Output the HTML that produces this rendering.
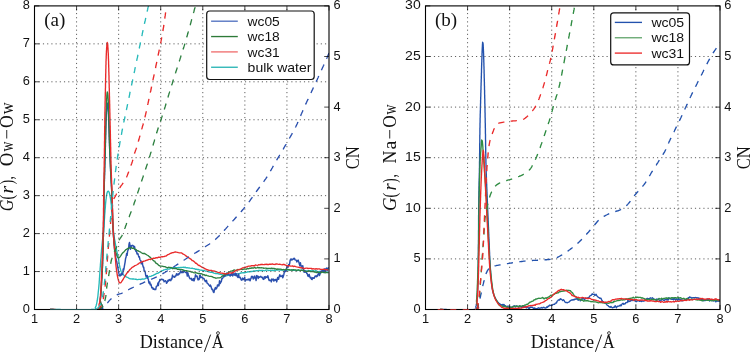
<!DOCTYPE html><html><head><meta charset="utf-8"><style>html,body{margin:0;padding:0;background:#fff;}svg{display:block;will-change:transform;} .s{font-family:"Liberation Sans",sans-serif;} .r{font-family:"Liberation Serif",serif;}</style></head><body>
<svg width="750" height="352" viewBox="0 0 750 352">
<rect width="750" height="352" fill="#fff"/>
<defs><clipPath id="ca"><rect x="34.5" y="5.9" width="294.5" height="303.6"/></clipPath><clipPath id="cb"><rect x="425.5" y="5.9" width="294.5" height="303.6"/></clipPath></defs>
<path d="M50.0 309.5 L51.0 309.5 L52.0 309.5 L52.9 309.5 L53.9 309.5 L55.0 309.5 L55.9 309.5 L56.9 309.5 L57.9 309.5 L58.9 309.5 L60.0 309.5 L61.1 309.6 L62.3 309.6 L63.4 309.6 L64.6 309.6 L65.8 309.6 L66.7 309.6 L67.6 309.6 L68.6 309.6 L69.5 309.6 L70.4 309.6 L71.4 309.6 L72.3 309.6 L73.2 309.6 L74.2 309.6 L75.1 309.6 L76.0 309.6 L76.9 309.6 L77.8 309.6 L79.0 309.6 L80.2 309.6 L81.3 309.6 L82.5 309.6 L83.6 309.6 L84.6 309.6 L85.7 309.6 L86.7 309.6 L87.6 309.6 L88.5 309.6 L89.6 309.6 L90.6 309.6 L91.5 309.5 L92.4 309.5 L94.7 309.4 L95.9 309.3 L96.8 309.1 L95.8 308.5 L95.3 307.6 L95.8 306.7 L96.1 305.8 L96.4 304.8 L96.6 303.8 L96.8 302.9 L97.0 301.9 L97.2 301.0 L97.3 300.0 L97.5 299.0 L97.6 298.0 L97.8 296.8 L97.9 295.9 L98.0 295.0 L98.1 293.9 L98.2 292.8 L98.3 291.9 L98.4 291.0 L98.5 290.0 L98.6 289.0 L98.7 288.0 L98.8 287.0 L98.9 285.9 L99.0 284.8 L99.1 283.7 L99.2 282.6 L99.2 281.6 L99.3 280.7 L99.4 279.7 L99.4 278.8 L99.5 277.9 L99.6 276.9 L99.6 275.9 L99.7 274.9 L99.8 273.9 L99.8 272.9 L99.9 271.9 L100.0 270.9 L100.1 269.8 L100.1 268.8 L100.2 267.7 L100.3 266.6 L100.4 265.5 L100.4 264.5 L100.5 263.6 L100.6 262.6 L100.7 261.6 L100.7 260.6 L100.8 259.6 L100.9 258.5 L101.0 257.5 L101.1 256.5 L101.1 255.4 L101.2 254.4 L101.3 253.3 L101.4 252.3 L101.5 251.2 L101.5 250.2 L101.6 249.2 L101.7 248.2 L101.8 247.3 L101.9 246.3 L102.0 245.4 L102.1 244.4 L102.2 243.3 L102.3 242.3 L102.4 241.4 L102.5 240.4 L102.6 239.3 L102.7 238.2 L102.9 237.2 L103.0 236.3 L103.1 235.3 L103.2 234.3 L103.3 233.3 L103.4 232.2 L103.5 231.0 L103.6 230.0 L103.7 229.0 L103.8 227.8 L103.9 226.9 L103.9 225.9 L104.0 224.9 L104.1 223.9 L104.2 222.8 L104.2 221.7 L104.3 220.6 L104.4 219.5 L104.5 218.4 L104.6 217.2 L104.6 216.1 L104.7 215.0 L104.8 213.9 L104.9 212.8 L105.0 211.8 L105.0 210.8 L105.1 209.8 L105.2 208.8 L105.3 207.9 L105.4 206.8 L105.4 205.7 L105.5 204.6 L105.6 203.4 L105.7 202.4 L105.8 201.4 L105.9 200.5 L106.0 199.4 L106.2 198.4 L106.3 197.5 L106.4 196.4 L106.5 195.5 L106.7 194.5 L106.9 193.5 L107.2 192.3 L107.7 191.4 L108.6 191.2 L109.1 192.3 L109.5 193.5 L109.7 194.5 L109.9 195.5 L110.1 196.4 L110.3 197.5 L110.5 198.4 L110.6 199.4 L110.8 200.5 L110.9 201.4 L111.0 202.4 L111.1 203.4 L111.3 204.6 L111.4 205.6 L111.4 206.6 L111.5 207.6 L111.6 208.5 L111.7 209.5 L111.8 210.5 L111.8 211.5 L111.9 212.5 L112.0 213.6 L112.1 214.7 L112.2 215.8 L112.2 216.9 L112.3 218.0 L112.4 219.1 L112.5 220.3 L112.6 221.4 L112.6 222.4 L112.7 223.5 L112.8 224.6 L112.9 225.6 L113.0 226.6 L113.1 227.6 L113.1 228.5 L113.3 229.6 L113.4 230.6 L113.5 231.6 L113.6 232.5 L113.7 233.6 L113.9 234.8 L114.1 235.9 L114.2 236.9 L114.4 237.9 L114.5 238.9 L114.7 239.9 L114.9 240.8 L115.0 241.7 L115.2 242.6 L115.4 243.7 L115.6 244.8 L115.8 245.8 L116.0 246.9 L116.2 248.0 L116.4 249.1 L116.6 250.1 L116.8 251.0 L117.0 251.9 L117.2 252.8 L117.4 253.7 L117.6 254.6 L117.8 255.5 L118.0 256.5 L118.2 257.5 L118.4 258.5 L118.6 259.6 L118.7 260.7 L118.9 261.8 L119.1 262.8 L119.3 263.9 L119.4 264.9 L119.6 265.8 L119.8 266.7 L120.0 267.7 L120.3 268.7 L120.5 269.6 L120.8 270.6 L121.1 271.5 L121.6 272.5 L122.2 273.4 L122.8 274.2 L123.6 274.9 L124.3 275.5 L125.8 276.7 L126.7 277.1 L127.6 277.3 L128.5 278.1 L129.4 278.5 L130.4 278.8 L131.2 278.9 L132.1 279.0 L133.0 278.8 L133.9 279.0 L135.0 279.2 L136.0 279.2 L136.8 279.6 L137.6 279.6 L138.7 279.3 L139.7 279.3 L140.7 279.5 L141.7 279.2 L142.7 279.0 L143.7 279.1 L144.7 278.8 L145.6 278.3 L146.6 278.0 L147.5 277.8 L148.5 276.9 L149.4 276.4 L150.4 276.3 L151.3 276.1 L152.2 275.6 L153.1 275.4 L154.1 274.8 L155.0 274.3 L155.9 274.0 L156.8 273.3 L157.7 273.4 L158.6 272.7 L159.5 272.3 L160.4 271.6 L161.3 271.2 L162.2 270.7 L163.1 270.4 L164.0 269.8 L164.9 269.7 L165.8 269.4 L166.7 269.4 L167.7 268.9 L168.6 269.1 L169.5 269.0 L170.4 268.5 L171.3 268.3 L172.1 267.9 L173.0 267.7 L174.0 267.9 L175.0 267.7 L176.0 267.7 L177.0 267.7 L178.1 267.6 L178.9 267.5 L179.7 267.6 L180.6 267.4 L181.5 267.3 L182.4 267.3 L183.3 267.2 L184.2 267.6 L185.1 267.2 L186.1 267.8 L187.1 267.6 L188.0 267.9 L189.0 268.0 L190.1 268.2 L191.1 268.3 L192.1 268.2 L193.2 268.6 L194.2 268.7 L195.3 269.2 L196.3 269.2 L197.4 269.5 L198.4 269.5 L199.4 269.8 L200.4 270.1 L201.4 270.1 L202.5 270.5 L203.5 270.5 L204.5 270.5 L205.6 271.2 L206.6 271.1 L207.7 271.4 L208.7 271.9 L209.8 272.0 L210.8 272.3 L211.9 272.4 L212.9 272.7 L213.9 273.2 L214.9 273.3 L215.8 273.5 L216.8 273.6 L217.6 273.5 L218.5 273.8 L219.3 274.2 L220.4 274.3 L221.3 274.3 L222.1 274.6 L223.2 274.9 L224.1 275.2 L224.9 275.4 L225.8 275.7 L226.6 275.8 L227.5 275.3 L228.5 275.4 L229.4 275.0 L230.2 275.5 L231.1 274.9 L231.9 274.9 L232.9 274.5 L233.8 274.8 L234.8 274.5 L235.8 274.4 L236.8 273.7 L237.9 273.9 L238.9 273.8 L239.9 273.3 L241.0 273.0 L242.0 272.9 L243.1 272.7 L244.1 272.7 L245.1 272.7 L246.1 272.4 L247.1 272.1 L248.0 271.7 L249.0 271.8 L249.9 271.8 L250.8 271.4 L251.8 271.5 L252.7 271.3 L253.6 271.0 L254.6 270.9 L255.6 271.0 L256.7 270.7 L257.5 270.6 L258.3 270.5 L259.1 270.3 L260.0 270.6 L260.9 270.5 L261.9 270.4 L262.8 270.5 L263.7 270.7 L264.7 270.8 L265.7 270.1 L266.7 270.2 L267.7 270.1 L268.8 270.5 L269.6 270.4 L270.4 270.3 L271.2 270.4 L272.0 270.2 L272.8 270.5 L273.7 270.7 L274.5 270.0 L275.3 270.3 L276.1 270.2 L276.9 270.0 L278.0 270.0 L279.0 269.7 L280.0 270.2 L281.0 269.8 L282.0 270.0 L282.9 270.2 L283.8 269.8 L284.7 270.0 L285.6 270.0 L286.5 270.1 L287.4 270.1 L288.2 270.0 L289.0 269.8 L290.1 269.8 L291.1 269.9 L292.0 270.0 L293.0 270.4 L293.9 270.3 L294.8 270.3 L295.8 270.4 L296.7 270.6 L297.6 270.5 L298.6 270.0 L299.6 270.6 L300.6 270.4 L301.6 270.2 L302.6 270.5 L303.6 270.4 L304.7 270.7 L305.7 270.8 L306.8 271.3 L307.8 270.8 L308.8 270.6 L309.9 270.6 L310.9 270.7 L311.9 270.8 L312.9 270.6 L313.9 271.0 L314.8 271.3 L315.8 270.7 L316.8 271.1 L317.7 271.4 L318.6 271.6 L319.5 271.4 L320.3 271.9 L321.2 271.7 L322.1 271.5 L322.9 272.0 L323.8 271.9 L324.6 271.5 L325.6 271.8 L326.5 271.8 L327.4 272.1 L328.3 272.0" fill="none" stroke="#26baba" stroke-width="1.35" stroke-linejoin="round" clip-path="url(#ca)"/>
<path d="M50.0 309.5 L51.0 309.5 L51.9 309.5 L53.0 309.5 L54.0 309.6 L55.1 309.6 L56.2 309.6 L57.1 309.6 L58.1 309.7 L59.2 309.7 L60.2 309.7 L61.3 309.8 L62.4 309.8 L63.5 309.8 L64.7 309.9 L65.9 309.9 L67.1 309.9 L68.0 310.0 L68.9 310.0 L69.8 310.0 L70.7 310.0 L71.7 310.0 L72.6 310.1 L73.5 310.1 L74.4 310.1 L75.4 310.1 L76.3 310.1 L77.2 310.1 L78.2 310.2 L79.1 310.2 L80.0 310.2 L80.9 310.2 L81.8 310.2 L83.0 310.2 L84.2 310.2 L85.3 310.2 L86.5 310.2 L87.6 310.2 L88.7 310.2 L89.7 310.1 L90.7 310.1 L91.7 310.1 L92.6 310.0 L93.5 310.0 L94.6 309.9 L95.6 309.9 L96.5 309.8 L97.5 309.7 L98.5 309.5 L99.7 309.2 L100.7 308.9 L101.7 308.4 L102.4 307.7 L102.6 306.6 L102.2 305.6 L101.8 304.8 L101.4 304.0 L100.9 303.0 L100.5 302.1 L100.3 301.1 L100.3 300.0 L100.4 299.0 L100.5 298.0 L100.6 296.9 L100.7 296.0 L100.8 295.0 L100.8 294.0 L100.9 293.1 L101.0 292.0 L101.0 291.0 L101.1 289.9 L101.2 288.9 L101.3 287.8 L101.3 286.7 L101.4 285.6 L101.5 284.5 L101.5 283.4 L101.6 282.3 L101.6 281.3 L101.7 280.4 L101.7 279.5 L101.8 278.6 L101.9 277.7 L101.9 276.7 L102.0 275.8 L102.0 274.9 L102.1 273.9 L102.1 273.0 L102.2 272.0 L102.2 271.0 L102.3 270.0 L102.3 269.0 L102.4 268.0 L102.4 266.9 L102.5 265.9 L102.5 264.8 L102.6 263.7 L102.6 262.6 L102.6 261.5 L102.7 260.3 L102.7 259.3 L102.8 258.2 L102.8 257.1 L102.8 256.2 L102.9 255.3 L102.9 254.4 L102.9 253.4 L102.9 252.5 L103.0 251.5 L103.0 250.5 L103.0 249.6 L103.1 248.6 L103.1 247.6 L103.1 246.6 L103.1 245.6 L103.2 244.5 L103.2 243.5 L103.2 242.5 L103.2 241.4 L103.3 240.4 L103.3 239.4 L103.3 238.3 L103.3 237.2 L103.4 236.2 L103.4 235.1 L103.4 234.0 L103.4 233.0 L103.5 231.9 L103.5 230.8 L103.5 229.8 L103.5 228.8 L103.5 227.9 L103.6 226.9 L103.6 225.9 L103.6 224.9 L103.6 223.9 L103.6 222.9 L103.6 221.9 L103.6 220.9 L103.7 219.8 L103.7 218.8 L103.7 217.7 L103.7 216.7 L103.7 215.6 L103.7 214.6 L103.7 213.5 L103.8 212.5 L103.8 211.4 L103.8 210.3 L103.8 209.3 L103.8 208.3 L103.8 207.2 L103.8 206.2 L103.8 205.2 L103.9 204.2 L103.9 203.2 L103.9 202.2 L103.9 201.2 L103.9 200.2 L103.9 199.3 L103.9 198.3 L104.0 197.4 L104.0 196.5 L104.0 195.4 L104.0 194.4 L104.0 193.2 L104.1 192.1 L104.1 191.0 L104.1 189.9 L104.1 188.8 L104.2 187.8 L104.2 186.8 L104.2 185.8 L104.3 184.8 L104.3 183.8 L104.3 182.8 L104.3 181.9 L104.4 180.9 L104.4 180.0 L104.4 179.1 L104.5 178.1 L104.5 177.2 L104.5 176.2 L104.5 175.3 L104.6 174.4 L104.6 173.4 L104.6 172.5 L104.7 171.5 L104.7 170.5 L104.7 169.5 L104.7 168.5 L104.8 167.5 L104.8 166.5 L104.8 165.5 L104.9 164.5 L104.9 163.5 L104.9 162.5 L104.9 161.5 L105.0 160.5 L105.0 159.5 L105.0 158.5 L105.1 157.5 L105.1 156.5 L105.1 155.5 L105.1 154.5 L105.2 153.5 L105.2 152.5 L105.2 151.5 L105.2 150.5 L105.3 149.5 L105.3 148.5 L105.3 147.5 L105.4 146.5 L105.4 145.5 L105.4 144.5 L105.4 143.5 L105.5 142.4 L105.5 141.4 L105.5 140.3 L105.6 139.3 L105.6 138.2 L105.6 137.1 L105.6 136.0 L105.7 135.0 L105.7 133.9 L105.7 132.8 L105.8 131.8 L105.8 130.7 L105.8 129.7 L105.8 128.6 L105.9 127.6 L105.9 126.6 L105.9 125.6 L105.9 124.7 L106.0 123.8 L106.0 122.7 L106.0 121.6 L106.1 120.6 L106.1 119.6 L106.2 118.6 L106.2 117.6 L106.2 116.6 L106.3 115.7 L106.3 114.6 L106.4 113.5 L106.4 112.5 L106.5 111.5 L106.6 110.4 L106.6 109.4 L106.7 108.4 L106.8 107.5 L106.8 106.5 L106.9 105.2 L107.0 104.1 L107.2 103.1 L107.7 103.8 L107.8 104.8 L107.9 106.1 L108.0 107.0 L108.1 108.1 L108.1 109.0 L108.2 110.0 L108.3 111.1 L108.3 112.0 L108.4 113.0 L108.4 114.0 L108.5 115.1 L108.5 116.3 L108.6 117.3 L108.6 118.2 L108.7 119.3 L108.7 120.2 L108.7 121.2 L108.8 122.2 L108.8 123.3 L108.8 124.2 L108.9 125.2 L108.9 126.1 L108.9 127.1 L109.0 128.1 L109.0 129.1 L109.0 130.2 L109.1 131.2 L109.1 132.3 L109.1 133.3 L109.2 134.4 L109.2 135.5 L109.2 136.6 L109.3 137.7 L109.3 138.7 L109.3 139.8 L109.4 140.9 L109.4 141.9 L109.4 143.0 L109.5 144.0 L109.5 145.0 L109.5 146.0 L109.6 147.0 L109.6 148.0 L109.7 149.0 L109.7 150.0 L109.7 151.0 L109.8 152.0 L109.8 153.0 L109.9 154.0 L109.9 155.0 L110.0 156.0 L110.0 157.0 L110.0 158.0 L110.1 159.0 L110.1 160.0 L110.2 161.0 L110.2 162.0 L110.3 163.0 L110.3 164.0 L110.4 165.0 L110.4 166.0 L110.5 167.0 L110.5 168.0 L110.6 169.0 L110.6 170.0 L110.6 171.0 L110.7 172.0 L110.7 173.0 L110.8 173.9 L110.9 174.9 L110.9 175.9 L111.0 176.9 L111.0 177.8 L111.1 178.8 L111.1 179.8 L111.2 180.7 L111.2 181.7 L111.3 182.7 L111.3 183.7 L111.4 184.6 L111.4 185.6 L111.5 186.6 L111.6 187.6 L111.6 188.7 L111.7 189.7 L111.7 190.7 L111.8 191.8 L111.8 192.8 L111.9 193.9 L111.9 195.0 L111.9 195.9 L112.0 196.9 L112.0 197.8 L112.0 198.8 L112.1 199.8 L112.1 200.8 L112.1 201.8 L112.2 202.9 L112.2 203.9 L112.2 204.9 L112.3 206.0 L112.3 207.0 L112.3 208.1 L112.4 209.1 L112.4 210.2 L112.4 211.2 L112.4 212.3 L112.5 213.3 L112.5 214.4 L112.5 215.4 L112.6 216.4 L112.6 217.4 L112.6 218.4 L112.7 219.4 L112.7 220.4 L112.7 221.4 L112.8 222.3 L112.8 223.2 L112.9 224.1 L112.9 225.3 L113.0 226.5 L113.0 227.6 L113.1 228.8 L113.2 229.9 L113.2 231.1 L113.3 232.2 L113.4 233.3 L113.4 234.4 L113.5 235.5 L113.6 236.5 L113.7 237.6 L113.7 238.6 L113.8 239.6 L113.9 240.5 L114.0 241.5 L114.0 242.4 L114.1 243.5 L114.2 244.5 L114.3 245.5 L114.4 246.5 L114.4 247.4 L114.5 248.6 L114.6 249.6 L114.7 250.7 L114.9 251.7 L115.0 252.8 L115.1 253.7 L115.3 254.7 L115.5 255.8 L115.6 256.8 L115.8 257.8 L116.0 258.7 L116.2 259.6 L116.4 260.5 L116.7 261.5 L116.9 262.6 L117.1 263.7 L117.3 264.7 L117.5 265.7 L117.7 266.8 L117.9 268.0 L118.1 268.9 L118.2 269.8 L118.4 270.7 L118.6 271.9 L118.8 272.9 L119.0 273.9 L119.5 275.3 L120.0 276.0 L120.6 275.2 L121.2 273.6 L121.7 275.0 L122.2 273.4 L122.7 274.2 L123.2 269.0 L123.7 270.0 L124.2 267.3 L124.6 264.9 L125.1 262.1 L125.6 258.4 L126.1 257.0 L126.6 253.6 L127.1 255.3 L127.6 251.2 L128.1 249.9 L128.6 248.8 L129.0 244.2 L129.5 242.5 L130.0 245.4 L130.5 249.2 L130.9 247.4 L131.4 245.6 L131.9 246.1 L132.4 245.3 L132.9 245.5 L133.4 245.8 L134.0 247.9 L134.5 246.5 L135.0 248.9 L135.5 250.2 L136.0 251.4 L136.5 251.0 L137.0 253.9 L137.5 253.9 L137.9 253.6 L138.4 255.4 L138.9 256.9 L139.4 256.8 L139.9 259.5 L140.3 260.2 L140.8 260.5 L141.3 263.8 L141.8 263.6 L142.3 262.1 L142.7 264.9 L143.2 267.0 L143.7 267.2 L144.2 271.2 L144.7 270.8 L145.2 272.0 L145.7 275.3 L146.2 276.7 L146.7 276.1 L147.2 275.5 L147.7 278.3 L148.3 279.1 L148.8 282.5 L149.4 283.6 L149.8 281.9 L150.3 284.9 L150.8 284.1 L151.3 285.6 L151.8 287.8 L152.2 287.8 L152.7 287.6 L153.2 289.3 L153.8 288.6 L154.4 289.5 L155.0 289.4 L155.7 289.5 L156.4 286.1 L156.8 286.1 L157.4 285.6 L157.9 283.1 L158.4 285.5 L158.9 281.6 L159.4 281.6 L159.9 279.5 L160.5 280.0 L161.2 279.1 L161.9 279.1 L162.4 279.8 L163.0 279.5 L163.7 280.3 L164.1 281.8 L164.6 281.3 L165.1 281.0 L165.5 280.7 L166.0 281.2 L166.5 283.3 L167.0 282.8 L167.5 281.6 L168.0 280.2 L168.5 281.1 L169.0 279.9 L169.5 279.6 L170.2 280.4 L170.8 280.7 L171.4 278.5 L171.9 279.0 L172.5 275.1 L173.1 276.8 L173.7 276.9 L174.2 276.6 L174.7 277.3 L175.3 275.9 L175.8 276.0 L176.5 273.8 L176.9 274.9 L177.4 275.1 L178.1 273.7 L178.5 274.8 L179.0 274.1 L179.6 273.7 L180.1 272.6 L180.6 271.0 L181.2 271.8 L181.7 272.7 L182.2 272.5 L182.7 271.2 L183.2 272.6 L183.8 270.7 L184.3 271.1 L185.0 272.0 L185.6 272.5 L186.1 272.5 L186.7 272.8 L187.3 276.1 L187.8 272.6 L188.4 275.0 L189.0 276.4 L189.5 277.9 L190.1 278.7 L190.7 278.7 L191.2 278.2 L191.7 280.0 L192.2 279.3 L192.8 280.4 L193.5 278.6 L194.0 280.9 L194.5 279.4 L195.0 277.5 L195.5 274.8 L196.0 275.6 L196.5 276.5 L197.1 276.1 L197.6 278.7 L198.1 279.9 L198.6 278.7 L199.2 279.5 L199.6 275.7 L200.2 275.1 L200.9 277.7 L201.6 277.1 L202.2 277.2 L202.9 278.3 L203.5 278.3 L204.2 278.9 L204.8 280.4 L205.4 281.7 L206.0 280.6 L206.5 280.3 L207.0 283.0 L207.7 283.6 L208.3 283.9 L208.7 284.9 L209.3 285.6 L209.9 286.2 L210.3 285.0 L210.9 286.0 L211.5 288.2 L212.0 289.6 L212.6 289.2 L213.2 291.7 L213.9 292.5 L214.4 290.4 L215.0 288.5 L215.4 287.5 L215.9 289.0 L216.4 288.6 L217.0 287.4 L217.5 285.0 L218.0 286.1 L218.5 284.7 L219.0 285.8 L219.5 280.7 L220.1 283.6 L220.7 282.4 L221.3 281.5 L221.9 278.5 L222.4 278.5 L223.0 277.6 L223.6 276.1 L224.1 276.7 L224.7 275.2 L225.2 276.2 L225.7 274.1 L226.2 274.6 L226.7 273.1 L227.1 274.9 L227.6 274.6 L228.0 274.4 L228.5 273.7 L229.1 274.8 L229.7 275.2 L230.2 276.1 L230.8 274.2 L231.4 275.2 L231.9 273.1 L232.4 274.7 L232.8 275.9 L233.3 273.8 L233.8 274.0 L234.3 274.0 L234.8 275.2 L235.3 273.1 L235.8 275.5 L236.2 273.7 L236.7 275.4 L237.4 276.7 L238.1 277.5 L238.5 273.9 L239.0 276.2 L239.5 277.6 L240.1 277.2 L240.8 279.0 L241.4 280.2 L242.1 279.3 L242.5 278.1 L243.0 279.8 L243.5 278.8 L244.0 279.2 L244.7 277.2 L245.1 281.2 L245.6 280.4 L246.1 279.7 L246.6 279.7 L247.1 279.9 L247.6 279.8 L248.1 279.1 L248.6 279.6 L249.1 280.0 L249.6 279.1 L250.1 280.8 L250.6 278.9 L251.0 278.6 L251.5 276.4 L252.2 276.3 L252.7 277.2 L253.3 279.0 L253.8 277.5 L254.2 276.4 L254.7 276.1 L255.2 278.7 L255.7 278.9 L256.1 280.5 L256.6 275.6 L257.2 276.9 L257.7 276.0 L258.2 278.5 L258.9 276.7 L259.3 277.4 L259.8 277.3 L260.3 276.9 L260.8 276.3 L261.3 277.0 L261.8 277.5 L262.3 277.2 L262.8 278.4 L263.3 279.3 L263.8 279.4 L264.3 276.8 L264.8 277.4 L265.3 278.2 L265.8 276.6 L266.3 277.4 L266.8 277.3 L267.3 277.4 L267.8 275.7 L268.3 277.6 L268.8 279.6 L269.3 280.6 L269.8 280.2 L270.3 280.4 L270.8 280.2 L271.3 281.9 L271.8 278.9 L272.3 279.6 L272.8 279.9 L273.3 279.1 L273.8 281.1 L274.2 280.5 L274.7 279.6 L275.2 279.5 L275.7 280.3 L276.2 279.5 L276.7 281.9 L277.2 279.5 L277.7 277.5 L278.2 278.2 L278.6 279.3 L279.1 276.7 L279.8 274.7 L280.4 276.5 L281.0 275.9 L281.7 276.6 L282.3 275.3 L282.8 277.8 L283.4 276.1 L283.9 274.2 L284.4 271.4 L284.8 271.5 L285.4 270.0 L285.8 271.6 L286.4 270.0 L286.9 266.5 L287.5 266.8 L288.0 267.3 L288.5 264.8 L289.1 265.2 L289.6 263.8 L290.1 260.6 L290.6 259.4 L291.2 258.9 L291.8 260.1 L292.3 259.4 L292.9 259.4 L293.5 258.4 L294.0 259.0 L294.5 258.3 L295.1 259.9 L295.7 260.1 L296.3 260.2 L296.9 261.9 L297.5 260.8 L298.1 260.1 L298.8 262.1 L299.3 263.9 L299.9 265.7 L300.4 262.7 L300.9 265.9 L301.4 265.7 L301.8 266.4 L302.3 268.2 L302.8 265.8 L303.3 268.9 L303.8 270.5 L304.2 272.3 L304.7 270.6 L305.3 272.2 L305.8 271.2 L306.3 271.2 L306.8 273.6 L307.3 273.7 L307.8 275.9 L308.2 276.4 L308.7 275.0 L309.2 274.4 L309.7 276.4 L310.3 278.0 L310.9 277.3 L311.6 279.4 L312.1 279.5 L312.6 277.7 L313.1 277.7 L313.6 278.3 L314.1 278.3 L314.6 277.4 L315.1 276.0 L315.6 276.0 L316.1 276.4 L316.6 276.8 L317.0 275.5 L317.5 276.1 L318.0 274.2 L318.4 273.7 L318.9 272.6 L319.5 275.5 L320.2 273.6 L320.8 271.2 L321.5 271.8 L322.1 270.3 L322.7 270.8 L323.4 272.5 L324.0 269.8 L324.5 268.9 L325.1 271.9 L325.6 269.3 L326.1 268.5 L326.6 268.1 L327.1 270.7 L327.6 269.4 L328.2 267.8 L328.7 267.9" fill="none" stroke="#2a4fae" stroke-width="1.45" stroke-linejoin="round" clip-path="url(#ca)"/>
<path d="M50.0 309.5 L51.0 309.5 L51.9 309.5 L53.0 309.5 L54.0 309.6 L55.1 309.6 L56.2 309.6 L57.1 309.6 L58.1 309.7 L59.2 309.7 L60.2 309.7 L61.3 309.8 L62.4 309.8 L63.5 309.8 L64.7 309.9 L65.9 309.9 L67.1 309.9 L68.0 310.0 L68.9 310.0 L69.8 310.0 L70.7 310.0 L71.7 310.0 L72.6 310.1 L73.5 310.1 L74.4 310.1 L75.4 310.1 L76.3 310.1 L77.2 310.1 L78.2 310.2 L79.1 310.2 L80.0 310.2 L80.9 310.2 L81.8 310.2 L83.0 310.2 L84.2 310.2 L85.3 310.2 L86.5 310.2 L87.6 310.2 L88.7 310.2 L89.7 310.1 L90.7 310.1 L91.7 310.1 L92.6 310.0 L93.5 310.0 L94.6 309.9 L95.6 309.9 L96.5 309.8 L97.5 309.7 L98.5 309.5 L99.7 309.2 L100.7 308.9 L101.7 308.4 L102.4 307.7 L102.6 306.6 L102.2 305.6 L101.8 304.8 L101.4 304.0 L100.9 303.0 L100.5 302.1 L100.3 301.1 L100.3 300.0 L100.4 299.0 L100.5 298.0 L100.6 296.9 L100.7 296.0 L100.8 295.0 L100.8 294.0 L100.9 293.1 L101.0 292.0 L101.0 291.0 L101.1 289.9 L101.2 288.9 L101.3 287.8 L101.3 286.7 L101.4 285.6 L101.5 284.5 L101.5 283.4 L101.6 282.3 L101.6 281.3 L101.7 280.4 L101.7 279.5 L101.8 278.6 L101.9 277.7 L101.9 276.7 L102.0 275.8 L102.0 274.9 L102.1 273.9 L102.1 273.0 L102.2 272.0 L102.2 271.0 L102.3 270.0 L102.3 269.0 L102.4 268.0 L102.4 266.9 L102.5 265.9 L102.5 264.8 L102.6 263.7 L102.6 262.6 L102.6 261.5 L102.7 260.3 L102.7 259.3 L102.8 258.2 L102.8 257.1 L102.8 256.2 L102.9 255.3 L102.9 254.4 L102.9 253.4 L102.9 252.5 L103.0 251.5 L103.0 250.5 L103.0 249.6 L103.1 248.6 L103.1 247.6 L103.1 246.6 L103.1 245.6 L103.2 244.5 L103.2 243.5 L103.2 242.5 L103.2 241.4 L103.3 240.4 L103.3 239.4 L103.3 238.3 L103.3 237.2 L103.4 236.2 L103.4 235.1 L103.4 234.0 L103.4 233.0 L103.5 231.9 L103.5 230.8 L103.5 229.8 L103.5 228.8 L103.5 227.9 L103.6 226.9 L103.6 225.9 L103.6 224.9 L103.6 223.9 L103.6 222.9 L103.6 221.9 L103.7 220.9 L103.7 219.8 L103.7 218.8 L103.7 217.7 L103.7 216.7 L103.7 215.6 L103.7 214.6 L103.7 213.5 L103.8 212.5 L103.8 211.4 L103.8 210.3 L103.8 209.3 L103.8 208.3 L103.8 207.2 L103.8 206.2 L103.8 205.2 L103.9 204.2 L103.9 203.2 L103.9 202.2 L103.9 201.2 L103.9 200.2 L103.9 199.3 L103.9 198.3 L104.0 197.4 L104.0 196.5 L104.0 195.4 L104.0 194.4 L104.0 193.2 L104.1 192.1 L104.1 191.0 L104.1 189.9 L104.1 188.8 L104.1 187.8 L104.2 186.8 L104.2 185.8 L104.2 184.8 L104.2 183.8 L104.3 182.8 L104.3 181.9 L104.3 180.9 L104.3 180.0 L104.4 179.1 L104.4 178.1 L104.4 177.2 L104.4 176.2 L104.5 175.3 L104.5 174.4 L104.5 173.4 L104.5 172.5 L104.6 171.5 L104.6 170.5 L104.6 169.5 L104.6 168.5 L104.7 167.5 L104.7 166.5 L104.7 165.5 L104.7 164.5 L104.8 163.5 L104.8 162.5 L104.8 161.5 L104.9 160.5 L104.9 159.5 L104.9 158.5 L104.9 157.5 L105.0 156.5 L105.0 155.5 L105.0 154.5 L105.1 153.5 L105.1 152.5 L105.1 151.5 L105.2 150.5 L105.2 149.5 L105.2 148.5 L105.2 147.5 L105.3 146.5 L105.3 145.5 L105.3 144.5 L105.3 143.5 L105.4 142.5 L105.4 141.5 L105.4 140.4 L105.4 139.4 L105.5 138.4 L105.5 137.3 L105.5 136.3 L105.5 135.3 L105.6 134.2 L105.6 133.2 L105.6 132.2 L105.6 131.2 L105.6 130.1 L105.7 129.1 L105.7 128.1 L105.7 127.1 L105.7 126.1 L105.8 125.2 L105.8 124.2 L105.8 123.2 L105.8 122.3 L105.9 121.4 L105.9 120.5 L105.9 119.4 L105.9 118.3 L106.0 117.2 L106.0 116.1 L106.0 114.9 L106.1 113.8 L106.1 112.7 L106.2 111.6 L106.2 110.5 L106.2 109.5 L106.3 108.4 L106.3 107.4 L106.3 106.4 L106.4 105.4 L106.4 104.5 L106.4 103.6 L106.5 102.5 L106.5 101.5 L106.6 100.5 L106.6 99.6 L106.7 98.3 L106.8 97.1 L106.8 96.1 L106.9 95.1 L107.0 94.0 L107.1 92.9 L107.3 92.0 L107.7 92.9 L107.8 94.0 L107.9 95.1 L108.0 96.1 L108.0 97.1 L108.1 98.3 L108.2 99.6 L108.2 100.5 L108.3 101.5 L108.3 102.5 L108.4 103.6 L108.4 104.5 L108.4 105.4 L108.5 106.4 L108.5 107.4 L108.5 108.4 L108.6 109.5 L108.6 110.5 L108.6 111.6 L108.7 112.7 L108.7 113.8 L108.7 114.9 L108.8 116.1 L108.8 117.2 L108.8 118.3 L108.9 119.4 L108.9 120.5 L108.9 121.4 L109.0 122.3 L109.0 123.2 L109.0 124.2 L109.0 125.2 L109.1 126.1 L109.1 127.1 L109.1 128.1 L109.2 129.1 L109.2 130.1 L109.2 131.2 L109.2 132.2 L109.3 133.2 L109.3 134.2 L109.3 135.3 L109.3 136.3 L109.4 137.3 L109.4 138.4 L109.4 139.4 L109.5 140.4 L109.5 141.5 L109.5 142.5 L109.6 143.5 L109.6 144.5 L109.6 145.5 L109.7 146.5 L109.7 147.5 L109.7 148.5 L109.8 149.5 L109.8 150.5 L109.8 151.5 L109.9 152.5 L109.9 153.5 L109.9 154.5 L110.0 155.5 L110.0 156.5 L110.1 157.5 L110.1 158.5 L110.1 159.5 L110.2 160.5 L110.2 161.5 L110.3 162.5 L110.3 163.5 L110.4 164.5 L110.4 165.5 L110.4 166.5 L110.5 167.5 L110.5 168.5 L110.6 169.5 L110.6 170.5 L110.7 171.5 L110.7 172.5 L110.8 173.5 L110.8 174.4 L110.9 175.4 L110.9 176.4 L111.0 177.3 L111.0 178.3 L111.1 179.3 L111.1 180.2 L111.2 181.2 L111.2 182.2 L111.3 183.2 L111.4 184.1 L111.4 185.1 L111.5 186.1 L111.5 187.1 L111.6 188.1 L111.6 189.2 L111.7 190.2 L111.7 191.2 L111.8 192.3 L111.8 193.4 L111.9 194.5 L111.9 195.5 L112.0 196.4 L112.0 197.4 L112.0 198.3 L112.1 199.3 L112.1 200.3 L112.1 201.4 L112.2 202.4 L112.2 203.4 L112.2 204.5 L112.3 205.5 L112.3 206.6 L112.3 207.7 L112.3 208.7 L112.4 209.8 L112.4 210.8 L112.4 211.9 L112.5 213.0 L112.5 214.0 L112.5 215.0 L112.6 216.1 L112.6 217.1 L112.6 218.1 L112.7 219.1 L112.7 220.0 L112.7 221.0 L112.8 221.9 L112.8 222.8 L112.9 223.9 L112.9 225.0 L112.9 225.9 L113.0 226.8 L113.0 227.8 L113.1 228.9 L113.2 230.1 L113.2 231.2 L113.3 232.3 L113.3 233.4 L113.4 234.5 L113.5 235.5 L113.5 236.5 L113.6 237.5 L113.7 238.5 L113.8 239.4 L113.8 240.3 L113.9 241.4 L114.0 242.5 L114.1 243.5 L114.2 244.4 L114.3 245.4 L114.5 246.4 L114.6 247.4 L114.8 248.3 L115.0 249.4 L115.3 250.4 L115.5 251.3 L115.8 252.4 L116.1 253.3 L116.4 254.2 L116.8 255.3 L117.2 256.2 L117.7 257.2 L118.3 257.9 L119.3 257.7 L120.0 256.8 L120.5 256.0 L121.0 255.3 L121.6 254.4 L122.2 253.5 L122.9 252.8 L123.5 252.2 L124.3 251.4 L125.8 249.7 L126.6 249.4 L127.6 248.4 L128.5 248.4 L129.4 247.6 L130.3 247.8 L131.4 247.6 L132.2 248.2 L133.1 248.2 L134.0 248.6 L134.9 249.4 L135.9 249.4 L136.8 250.3 L137.7 250.7 L138.6 251.2 L139.5 251.7 L140.5 251.9 L141.4 252.7 L142.3 253.3 L143.2 253.5 L144.2 253.3 L145.1 253.8 L146.0 254.4 L147.0 255.0 L148.0 255.5 L148.9 256.3 L149.9 257.1 L150.8 258.0 L151.8 258.6 L152.8 259.9 L153.8 260.9 L154.7 261.2 L155.6 262.8 L156.5 263.3 L157.5 264.1 L158.4 264.9 L159.3 265.7 L160.2 266.0 L161.0 266.2 L162.0 266.1 L162.9 266.3 L163.8 266.6 L164.7 266.7 L165.7 267.0 L166.7 267.5 L167.8 267.8 L168.6 267.2 L169.4 267.3 L170.3 267.7 L171.1 267.5 L172.0 267.9 L172.9 268.8 L173.7 268.2 L174.6 268.5 L175.5 268.4 L176.4 268.6 L177.3 269.2 L178.3 269.2 L179.3 269.5 L180.3 269.5 L181.3 269.5 L182.3 269.6 L183.3 270.0 L184.3 270.5 L185.4 270.6 L186.4 270.6 L187.4 271.0 L188.5 271.1 L189.5 271.3 L190.5 271.5 L191.5 272.1 L192.5 272.0 L193.5 272.6 L194.5 272.8 L195.6 272.6 L196.6 272.8 L197.7 273.3 L198.5 273.5 L199.3 273.5 L200.1 273.6 L201.2 273.7 L202.2 274.1 L203.2 274.6 L204.3 274.7 L205.2 275.6 L206.2 275.2 L207.1 275.6 L208.0 275.9 L208.8 276.2 L209.8 276.3 L210.9 276.3 L212.1 276.7 L213.0 277.2 L213.9 277.6 L214.8 277.6 L215.7 278.2 L216.7 278.1 L217.6 277.9 L218.5 277.9 L219.4 277.9 L220.4 277.7 L221.3 277.0 L222.2 276.1 L223.2 275.6 L224.1 275.2 L225.0 274.5 L225.8 274.2 L226.8 273.9 L227.7 273.1 L228.7 272.2 L229.6 271.8 L230.5 271.2 L231.4 271.1 L232.2 270.9 L233.0 270.7 L233.9 269.9 L234.8 270.2 L235.7 270.3 L236.7 270.1 L237.7 269.5 L238.8 269.7 L239.6 269.6 L240.4 269.3 L241.2 269.3 L242.0 269.4 L242.9 269.5 L243.7 269.1 L244.5 268.9 L245.3 269.1 L246.3 269.2 L247.2 268.4 L248.2 268.9 L249.1 268.5 L250.0 268.2 L250.9 268.4 L251.9 267.8 L252.8 268.0 L253.8 268.0 L254.8 267.4 L255.8 268.2 L256.9 267.9 L257.7 267.3 L258.5 267.9 L259.4 267.6 L260.3 267.9 L261.2 267.7 L262.1 267.9 L263.0 267.8 L263.9 268.3 L264.9 268.2 L265.9 268.1 L266.9 268.5 L267.9 268.4 L269.0 268.3 L270.0 268.3 L270.8 268.5 L271.6 268.1 L272.4 268.3 L273.2 268.5 L274.1 268.5 L274.9 268.6 L275.7 268.8 L276.7 269.4 L277.8 269.0 L278.8 269.1 L279.8 269.1 L280.8 269.1 L281.8 269.6 L282.7 269.7 L283.6 269.5 L284.5 269.9 L285.3 269.6 L286.2 269.2 L287.1 269.6 L287.9 269.5 L288.8 269.6 L289.8 270.0 L290.8 270.1 L291.8 269.8 L292.7 270.0 L293.7 269.7 L294.6 269.8 L295.5 269.8 L296.5 270.4 L297.4 270.1 L298.3 269.9 L299.3 270.2 L300.3 270.3 L301.3 270.2 L302.3 270.3 L303.3 270.4 L304.3 271.2 L305.4 271.4 L306.4 271.6 L307.4 271.4 L308.4 271.0 L309.5 271.1 L310.5 271.6 L311.5 271.6 L312.4 271.5 L313.4 271.4 L314.4 272.1 L315.3 272.0 L316.3 272.6 L317.1 272.4 L318.0 272.3 L318.9 272.3 L319.7 272.7 L320.6 272.6 L321.5 272.6 L322.4 272.2 L323.2 272.1 L324.0 272.4 L325.1 272.8 L326.0 272.7 L326.9 272.6 L327.7 272.7 L328.6 272.6" fill="none" stroke="#2d8040" stroke-width="1.35" stroke-linejoin="round" clip-path="url(#ca)"/>
<path d="M50.0 309.5 L51.0 309.5 L51.9 309.5 L52.8 309.5 L53.8 309.5 L54.9 309.5 L56.0 309.6 L57.0 309.6 L57.9 309.6 L59.0 309.6 L60.0 309.6 L61.1 309.6 L62.2 309.6 L63.3 309.7 L64.5 309.7 L65.7 309.7 L66.9 309.7 L67.8 309.7 L68.7 309.7 L69.6 309.7 L70.5 309.7 L71.5 309.8 L72.4 309.8 L73.3 309.8 L74.3 309.8 L75.2 309.8 L76.1 309.8 L77.1 309.8 L78.0 309.8 L78.9 309.8 L79.8 309.8 L80.7 309.8 L81.9 309.8 L83.1 309.8 L84.3 309.8 L85.4 309.8 L86.5 309.8 L87.6 309.8 L88.7 309.8 L89.7 309.8 L90.7 309.8 L91.6 309.8 L92.5 309.7 L93.6 309.7 L94.6 309.7 L95.5 309.6 L96.5 309.6 L97.5 309.5 L98.7 309.4 L99.7 309.2 L100.9 308.9 L101.1 307.9 L100.2 307.1 L99.3 306.1 L99.0 305.0 L99.2 304.0 L99.5 303.0 L99.7 302.0 L99.9 300.9 L100.0 299.9 L100.2 298.7 L100.3 297.6 L100.4 296.4 L100.5 295.5 L100.5 294.5 L100.6 293.6 L100.7 292.6 L100.7 291.6 L100.8 290.6 L100.9 289.5 L100.9 288.6 L101.0 287.6 L101.0 286.7 L101.1 285.7 L101.1 284.7 L101.2 283.7 L101.2 282.6 L101.3 281.6 L101.3 280.5 L101.4 279.4 L101.4 278.3 L101.5 277.2 L101.5 276.1 L101.6 275.0 L101.6 273.9 L101.7 272.8 L101.7 271.6 L101.8 270.5 L101.8 269.4 L101.9 268.3 L101.9 267.2 L102.0 266.1 L102.0 265.0 L102.0 264.1 L102.1 263.1 L102.1 262.2 L102.2 261.2 L102.2 260.3 L102.2 259.3 L102.3 258.3 L102.3 257.3 L102.3 256.4 L102.4 255.4 L102.4 254.4 L102.5 253.4 L102.5 252.4 L102.5 251.4 L102.6 250.3 L102.6 249.3 L102.6 248.3 L102.7 247.3 L102.7 246.3 L102.8 245.3 L102.8 244.2 L102.8 243.2 L102.9 242.2 L102.9 241.2 L102.9 240.1 L102.9 239.1 L103.0 238.1 L103.0 237.1 L103.0 236.1 L103.1 235.0 L103.1 234.0 L103.1 233.0 L103.1 232.0 L103.2 231.0 L103.2 230.0 L103.2 229.0 L103.2 228.0 L103.3 227.0 L103.3 225.9 L103.3 224.9 L103.3 223.9 L103.3 222.8 L103.4 221.8 L103.4 220.8 L103.4 219.7 L103.4 218.7 L103.4 217.6 L103.4 216.6 L103.5 215.5 L103.5 214.5 L103.5 213.4 L103.5 212.4 L103.5 211.4 L103.5 210.3 L103.5 209.3 L103.5 208.3 L103.6 207.3 L103.6 206.3 L103.6 205.3 L103.6 204.3 L103.6 203.3 L103.6 202.3 L103.6 201.4 L103.6 200.4 L103.6 199.5 L103.7 198.6 L103.7 197.6 L103.7 196.5 L103.7 195.4 L103.7 194.4 L103.7 193.2 L103.7 192.1 L103.8 191.0 L103.8 189.9 L103.8 188.8 L103.8 187.8 L103.8 186.8 L103.8 185.8 L103.9 184.8 L103.9 183.8 L103.9 182.8 L103.9 181.9 L103.9 180.9 L103.9 180.0 L104.0 179.1 L104.0 178.1 L104.0 177.2 L104.0 176.2 L104.0 175.3 L104.0 174.4 L104.0 173.4 L104.1 172.5 L104.1 171.5 L104.1 170.5 L104.1 169.5 L104.1 168.5 L104.1 167.5 L104.2 166.5 L104.2 165.6 L104.2 164.6 L104.2 163.6 L104.2 162.7 L104.2 161.7 L104.3 160.7 L104.3 159.8 L104.3 158.8 L104.3 157.8 L104.3 156.8 L104.3 155.9 L104.3 154.9 L104.4 153.9 L104.4 152.9 L104.4 151.9 L104.4 150.8 L104.4 149.8 L104.4 148.8 L104.5 147.7 L104.5 146.6 L104.5 145.5 L104.5 144.5 L104.5 143.6 L104.5 142.7 L104.5 141.7 L104.6 140.7 L104.6 139.7 L104.6 138.7 L104.6 137.7 L104.6 136.7 L104.6 135.7 L104.6 134.7 L104.6 133.6 L104.7 132.6 L104.7 131.6 L104.7 130.5 L104.7 129.5 L104.7 128.4 L104.7 127.4 L104.7 126.4 L104.8 125.3 L104.8 124.3 L104.8 123.3 L104.8 122.3 L104.8 121.3 L104.8 120.3 L104.8 119.3 L104.8 118.3 L104.9 117.3 L104.9 116.4 L104.9 115.5 L104.9 114.5 L104.9 113.4 L104.9 112.3 L105.0 111.3 L105.0 110.3 L105.0 109.3 L105.0 108.3 L105.0 107.4 L105.1 106.4 L105.1 105.5 L105.1 104.6 L105.1 103.6 L105.1 102.7 L105.1 101.8 L105.2 100.8 L105.2 99.9 L105.2 98.9 L105.2 97.9 L105.2 96.9 L105.3 95.9 L105.3 94.9 L105.3 93.9 L105.3 92.8 L105.4 91.7 L105.4 90.6 L105.4 89.6 L105.4 88.6 L105.5 87.7 L105.5 86.7 L105.5 85.8 L105.5 84.8 L105.5 83.7 L105.6 82.7 L105.6 81.6 L105.6 80.5 L105.6 79.5 L105.6 78.4 L105.7 77.3 L105.7 76.2 L105.7 75.1 L105.7 74.0 L105.8 72.9 L105.8 71.8 L105.8 70.7 L105.8 69.6 L105.9 68.5 L105.9 67.5 L105.9 66.4 L105.9 65.4 L106.0 64.4 L106.0 63.4 L106.0 62.5 L106.0 61.5 L106.1 60.4 L106.1 59.3 L106.2 58.3 L106.2 57.4 L106.2 56.2 L106.3 55.0 L106.3 53.8 L106.4 52.7 L106.4 51.6 L106.5 50.5 L106.6 49.5 L106.6 48.5 L106.7 47.6 L106.8 46.5 L106.8 45.4 L106.9 44.4 L107.0 43.3 L107.2 42.5 L107.6 43.3 L107.7 44.4 L107.8 45.4 L107.8 46.5 L107.9 47.6 L108.0 48.5 L108.0 49.5 L108.1 50.5 L108.1 51.6 L108.2 52.7 L108.3 53.8 L108.3 55.0 L108.4 56.2 L108.4 57.2 L108.4 58.1 L108.5 59.1 L108.5 60.2 L108.6 61.3 L108.6 62.2 L108.6 63.2 L108.6 64.1 L108.7 65.1 L108.7 66.2 L108.7 67.2 L108.8 68.2 L108.8 69.3 L108.8 70.4 L108.8 71.5 L108.9 72.6 L108.9 73.7 L108.9 74.8 L109.0 75.9 L109.0 77.0 L109.0 78.1 L109.0 79.2 L109.1 80.3 L109.1 81.3 L109.1 82.4 L109.1 83.5 L109.2 84.5 L109.2 85.5 L109.2 86.5 L109.2 87.5 L109.3 88.4 L109.3 89.3 L109.3 90.3 L109.3 91.4 L109.4 92.5 L109.4 93.6 L109.4 94.7 L109.4 95.7 L109.5 96.7 L109.5 97.7 L109.5 98.7 L109.5 99.6 L109.6 100.6 L109.6 101.5 L109.6 102.5 L109.6 103.4 L109.7 104.3 L109.7 105.3 L109.7 106.2 L109.7 107.1 L109.7 108.1 L109.8 109.1 L109.8 110.1 L109.8 111.1 L109.8 112.1 L109.9 113.1 L109.9 114.2 L109.9 115.2 L109.9 116.2 L109.9 117.1 L110.0 118.1 L110.0 119.0 L110.0 120.0 L110.0 121.0 L110.1 122.0 L110.1 123.0 L110.1 124.0 L110.1 125.1 L110.2 126.1 L110.2 127.1 L110.2 128.2 L110.2 129.2 L110.3 130.3 L110.3 131.3 L110.3 132.3 L110.3 133.4 L110.4 134.4 L110.4 135.4 L110.4 136.5 L110.4 137.5 L110.4 138.5 L110.5 139.5 L110.5 140.5 L110.5 141.5 L110.5 142.4 L110.6 143.4 L110.6 144.3 L110.6 145.3 L110.6 146.4 L110.7 147.4 L110.7 148.5 L110.7 149.5 L110.7 150.6 L110.7 151.6 L110.8 152.6 L110.8 153.6 L110.8 154.6 L110.8 155.6 L110.9 156.6 L110.9 157.6 L110.9 158.5 L110.9 159.5 L110.9 160.5 L111.0 161.4 L111.0 162.4 L111.0 163.4 L111.0 164.4 L111.1 165.3 L111.1 166.3 L111.1 167.3 L111.1 168.3 L111.2 169.3 L111.2 170.2 L111.2 171.2 L111.3 172.2 L111.3 173.2 L111.3 174.1 L111.4 175.1 L111.4 176.0 L111.4 177.0 L111.5 177.9 L111.5 178.8 L111.5 179.8 L111.6 180.7 L111.6 181.6 L111.6 182.6 L111.7 183.6 L111.7 184.5 L111.8 185.5 L111.8 186.5 L111.8 187.5 L111.9 188.6 L111.9 189.6 L112.0 190.7 L112.0 191.8 L112.0 192.9 L112.1 194.1 L112.1 195.2 L112.1 196.3 L112.2 197.2 L112.2 198.1 L112.2 199.1 L112.3 200.1 L112.3 201.0 L112.3 202.0 L112.3 203.0 L112.4 204.1 L112.4 205.1 L112.4 206.2 L112.4 207.2 L112.5 208.3 L112.5 209.3 L112.5 210.4 L112.6 211.5 L112.6 212.6 L112.6 213.6 L112.7 214.7 L112.7 215.8 L112.7 216.8 L112.7 217.9 L112.8 219.0 L112.8 220.0 L112.8 221.0 L112.9 222.0 L112.9 223.0 L112.9 224.0 L113.0 225.0 L113.0 226.0 L113.1 226.9 L113.1 227.8 L113.1 228.9 L113.2 230.0 L113.2 230.9 L113.3 231.8 L113.4 233.0 L113.4 234.2 L113.5 235.3 L113.6 236.4 L113.6 237.5 L113.7 238.6 L113.8 239.6 L113.9 240.7 L114.0 241.7 L114.0 242.7 L114.1 243.7 L114.2 244.6 L114.3 245.6 L114.4 246.5 L114.4 247.5 L114.5 248.4 L114.6 249.3 L114.7 250.4 L114.8 251.5 L114.9 252.5 L115.0 253.6 L115.1 254.6 L115.1 255.5 L115.2 256.7 L115.3 257.9 L115.4 259.0 L115.5 260.0 L115.6 261.1 L115.7 262.1 L115.8 263.1 L115.8 264.0 L115.9 265.0 L116.0 265.9 L116.1 267.0 L116.3 268.1 L116.4 269.2 L116.5 270.3 L116.7 271.2 L116.8 272.2 L117.0 273.1 L117.1 274.2 L117.3 275.3 L117.5 276.3 L117.7 277.3 L117.9 278.2 L118.2 279.3 L118.4 280.2 L118.7 281.0 L119.1 282.2 L119.8 282.9 L120.7 282.8 L121.3 282.1 L121.9 281.2 L122.5 280.3 L123.1 279.4 L123.5 278.5 L124.1 277.6 L124.6 276.6 L125.8 275.0 L126.7 273.3 L127.6 272.4 L128.4 271.7 L129.3 270.3 L130.2 269.2 L131.1 268.5 L132.1 267.4 L133.1 266.9 L133.9 266.4 L134.8 265.7 L135.6 265.4 L136.5 265.0 L137.4 264.5 L138.3 263.9 L139.3 263.0 L140.2 262.6 L141.1 262.2 L142.1 261.8 L143.0 261.5 L144.0 261.2 L145.0 260.9 L146.0 260.5 L146.9 260.1 L147.8 260.0 L148.8 259.4 L149.8 259.3 L150.7 259.5 L151.6 258.7 L152.5 258.7 L153.4 258.1 L154.5 258.3 L155.4 258.0 L156.4 257.7 L157.4 257.8 L158.5 257.2 L159.3 257.2 L160.1 257.3 L161.1 256.9 L162.1 256.7 L163.1 256.7 L164.0 256.6 L165.1 256.1 L166.1 256.1 L167.0 255.2 L167.9 254.6 L168.7 254.3 L169.6 253.9 L170.5 253.3 L171.5 253.0 L172.5 252.6 L173.5 252.6 L174.5 252.1 L175.5 252.0 L176.5 252.2 L177.5 252.3 L178.5 252.6 L179.5 252.8 L180.5 252.8 L181.4 252.8 L182.2 253.4 L183.2 254.1 L184.1 254.5 L185.2 255.2 L186.0 255.9 L186.9 256.6 L187.9 256.9 L188.7 257.8 L189.5 258.2 L190.4 258.9 L191.2 259.4 L192.1 260.5 L193.0 260.7 L193.9 261.4 L194.7 262.1 L195.5 263.2 L196.3 263.2 L197.1 264.0 L197.9 264.9 L198.8 265.5 L199.6 265.4 L200.4 266.2 L201.3 266.8 L202.2 267.4 L203.1 267.7 L204.0 268.1 L204.9 268.8 L205.8 269.0 L206.8 269.8 L207.8 269.7 L208.8 270.4 L209.8 270.3 L210.8 270.4 L211.8 270.5 L212.8 271.1 L213.7 271.0 L214.7 271.2 L215.6 271.7 L216.6 271.9 L217.4 272.2 L218.2 272.4 L219.3 272.6 L220.3 273.0 L221.3 273.1 L222.3 273.2 L223.2 273.7 L224.1 273.3 L225.0 273.9 L226.1 273.9 L226.9 273.7 L227.9 273.4 L228.9 273.0 L229.9 272.9 L230.8 272.8 L231.8 273.1 L232.7 272.6 L233.6 272.1 L234.5 271.4 L235.4 270.9 L236.3 270.4 L237.2 270.0 L238.2 269.9 L239.0 269.7 L239.9 269.4 L240.7 269.2 L241.6 268.5 L242.6 267.9 L243.6 267.7 L244.4 267.4 L245.3 267.5 L246.2 266.9 L247.0 266.9 L247.9 266.4 L248.8 266.2 L249.7 266.1 L250.7 266.0 L251.7 265.6 L252.7 265.7 L253.8 265.7 L254.6 265.7 L255.4 265.0 L256.3 265.2 L257.1 265.3 L258.0 265.1 L258.9 264.7 L259.8 264.8 L260.8 264.5 L261.8 264.3 L262.9 264.5 L263.7 264.6 L264.5 264.4 L265.3 264.5 L266.2 264.1 L267.0 264.6 L267.8 264.3 L268.6 264.6 L269.4 264.2 L270.5 264.2 L271.5 264.2 L272.5 264.0 L273.4 264.3 L274.3 264.4 L275.1 264.5 L276.0 263.9 L276.9 264.0 L277.7 264.2 L278.7 264.4 L279.6 264.2 L280.4 264.3 L281.3 264.6 L282.2 264.8 L283.2 264.3 L284.1 264.5 L284.9 264.8 L285.7 265.2 L286.6 265.5 L287.5 265.8 L288.5 265.8 L289.4 265.6 L290.4 266.1 L291.5 266.1 L292.5 265.9 L293.5 266.6 L294.6 266.2 L295.7 266.6 L296.7 266.9 L297.8 267.1 L298.8 267.3 L299.8 267.5 L300.8 267.8 L301.8 267.7 L302.9 268.1 L303.9 268.7 L304.9 268.4 L306.0 268.1 L307.0 268.2 L308.1 268.5 L309.1 268.4 L310.1 268.4 L311.1 268.3 L312.1 269.1 L313.1 268.7 L314.1 268.8 L315.1 269.2 L316.0 268.6 L316.8 269.0 L317.7 269.0 L318.6 268.9 L319.5 268.9 L320.3 269.3 L321.2 269.4 L322.1 269.4 L322.9 269.3 L323.8 269.1 L324.6 269.4 L325.6 269.6 L326.5 269.7 L327.4 269.8 L328.3 269.6" fill="none" stroke="#e92a2a" stroke-width="1.35" stroke-linejoin="round" clip-path="url(#ca)"/>
<g stroke="#555" stroke-width="0.95" stroke-dasharray="1.15 3.01"><line x1="76.57" y1="309.50" x2="76.57" y2="5.90"/><line x1="118.64" y1="309.50" x2="118.64" y2="5.90"/><line x1="160.71" y1="309.50" x2="160.71" y2="5.90"/><line x1="202.79" y1="309.50" x2="202.79" y2="5.90"/><line x1="244.86" y1="309.50" x2="244.86" y2="5.90"/><line x1="286.93" y1="309.50" x2="286.93" y2="5.90"/></g><g stroke="#555" stroke-width="0.95" stroke-dasharray="1.15 3.06"><line x1="34.50" y1="271.55" x2="329.00" y2="271.55"/><line x1="34.50" y1="233.60" x2="329.00" y2="233.60"/><line x1="34.50" y1="195.65" x2="329.00" y2="195.65"/><line x1="34.50" y1="157.70" x2="329.00" y2="157.70"/><line x1="34.50" y1="119.75" x2="329.00" y2="119.75"/><line x1="34.50" y1="81.80" x2="329.00" y2="81.80"/><line x1="34.50" y1="43.85" x2="329.00" y2="43.85"/></g>
<path d="M100.0 309.5 L100.7 309.2 L101.8 308.8 L103.0 308.2 L104.0 307.5 L104.7 306.8 L105.3 306.0 L105.8 305.2 L106.4 304.3 L107.1 303.4 L107.7 302.7 L108.3 301.9 L108.9 301.1 L109.6 300.4 L110.3 299.6 L111.0 298.9 L111.8 298.2 L112.5 297.6 L113.3 296.9 L114.2 296.3 L115.1 295.7 L116.0 295.2 L116.9 294.8 L117.8 294.5 L118.7 294.2 L119.7 293.9 L120.7 293.6 L121.6 293.3 L122.5 292.9 L123.4 292.5 L124.2 292.1 L125.0 291.6 L125.8 291.1 L126.6 290.7 L127.4 290.2 L128.2 289.8 L129.0 289.4 L129.7 289.0 L130.4 288.7 L131.1 288.3 L132.0 288.0 L132.9 287.5 L134.0 287.0 L134.7 286.7 L135.4 286.4 L136.1 286.0 L136.9 285.7 L137.7 285.3 L138.5 284.9 L139.4 284.6 L140.2 284.2 L141.2 283.7 L142.1 283.3 L143.0 282.9 L144.0 282.4 L145.0 282.0 L145.7 281.7 L146.5 281.3 L147.3 281.0 L148.1 280.7 L148.9 280.3 L149.7 280.0 L150.5 279.6 L151.4 279.2 L152.2 278.9 L153.1 278.5 L154.0 278.1 L154.9 277.7 L155.7 277.3 L156.6 276.9 L157.5 276.5 L158.3 276.1 L159.2 275.6 L160.0 275.2 L160.8 274.8 L161.6 274.3 L162.4 273.9 L163.2 273.4 L164.0 272.9 L164.8 272.5 L165.6 272.0 L166.4 271.5 L167.2 271.0 L168.0 270.5 L168.8 270.0 L169.6 269.5 L170.4 269.0 L171.2 268.5 L172.0 268.0 L172.7 267.5 L173.5 267.0 L174.3 266.5 L175.0 266.0 L175.8 265.5 L176.7 264.9 L177.5 264.4 L178.3 263.9 L179.1 263.3 L179.9 262.8 L180.7 262.3 L181.5 261.7 L182.2 261.2 L183.0 260.7 L183.8 260.2 L184.6 259.7 L185.3 259.2 L186.1 258.7 L186.8 258.2 L187.6 257.7 L188.3 257.2 L189.1 256.7 L189.9 256.2 L190.7 255.7 L191.4 255.3 L192.2 254.8 L192.9 254.4 L193.7 253.9 L194.4 253.5 L195.1 253.0 L195.9 252.6 L196.7 252.1 L197.5 251.6 L198.3 251.1 L199.1 250.6 L200.0 250.0 L200.7 249.6 L201.4 249.1 L202.1 248.7 L202.8 248.2 L203.6 247.7 L204.3 247.3 L205.1 246.8 L205.9 246.3 L206.7 245.8 L207.5 245.3 L208.3 244.7 L209.1 244.2 L209.8 243.7 L210.6 243.1 L211.4 242.6 L212.2 242.0 L213.0 241.4 L213.8 240.8 L214.5 240.1 L215.3 239.5 L215.9 238.9 L216.6 238.3 L217.2 237.7 L217.9 237.1 L218.5 236.5 L219.1 235.9 L219.8 235.2 L220.4 234.6 L221.0 233.9 L221.7 233.3 L222.3 232.6 L222.9 231.9 L223.6 231.2 L224.2 230.5 L224.8 229.8 L225.4 229.1 L226.1 228.4 L226.7 227.6 L227.4 226.9 L228.0 226.2 L228.7 225.5 L229.3 224.7 L230.0 224.0 L230.6 223.3 L231.2 222.7 L231.8 222.0 L232.5 221.3 L233.1 220.6 L233.7 219.9 L234.4 219.2 L235.0 218.5 L235.7 217.7 L236.3 217.0 L237.0 216.3 L237.6 215.5 L238.3 214.8 L238.9 214.1 L239.6 213.3 L240.2 212.6 L240.9 211.9 L241.5 211.2 L242.1 210.5 L242.7 209.8 L243.3 209.1 L243.9 208.4 L244.4 207.7 L245.0 207.1 L245.5 206.4 L246.0 205.8 L246.7 204.9 L247.4 204.1 L248.0 203.3 L248.6 202.4 L249.2 201.7 L249.8 200.9 L250.3 200.1 L250.8 199.4 L251.3 198.7 L251.9 197.9 L252.4 197.2 L252.9 196.5 L253.4 195.8 L253.9 195.0 L254.4 194.3 L254.9 193.5 L255.4 192.8 L256.0 192.0 L256.5 191.3 L257.1 190.5 L257.7 189.8 L258.2 189.0 L258.8 188.3 L259.3 187.5 L259.9 186.7 L260.5 186.0 L261.1 185.2 L261.6 184.5 L262.2 183.7 L262.8 182.9 L263.3 182.2 L263.9 181.4 L264.4 180.7 L264.9 179.9 L265.5 179.1 L266.0 178.4 L266.5 177.6 L267.0 176.8 L267.5 176.0 L268.0 175.2 L268.5 174.4 L269.0 173.6 L269.4 172.8 L269.9 172.0 L270.4 171.2 L270.8 170.4 L271.3 169.6 L271.7 168.8 L272.2 168.0 L272.6 167.2 L273.1 166.3 L273.6 165.5 L274.0 164.7 L274.5 163.8 L275.0 163.0 L275.4 162.2 L275.9 161.5 L276.3 160.7 L276.8 159.9 L277.2 159.2 L277.7 158.4 L278.2 157.7 L278.6 156.9 L279.1 156.1 L279.5 155.3 L280.0 154.5 L280.5 153.7 L280.9 152.9 L281.4 152.1 L281.9 151.3 L282.4 150.5 L282.9 149.6 L283.4 148.8 L283.9 147.9 L284.4 147.0 L284.8 146.3 L285.2 145.6 L285.7 144.8 L286.1 144.1 L286.5 143.3 L287.0 142.5 L287.4 141.8 L287.9 141.0 L288.4 140.2 L288.8 139.4 L289.3 138.6 L289.7 137.8 L290.2 137.0 L290.7 136.2 L291.1 135.4 L291.6 134.6 L292.0 133.8 L292.5 133.0 L292.9 132.2 L293.4 131.4 L293.8 130.5 L294.3 129.7 L294.7 128.9 L295.1 128.1 L295.5 127.3 L295.9 126.5 L296.3 125.6 L296.7 124.8 L297.1 124.0 L297.4 123.2 L297.8 122.4 L298.1 121.7 L298.5 120.9 L298.8 120.1 L299.2 119.3 L299.5 118.5 L299.8 117.7 L300.2 116.8 L300.5 116.0 L300.9 115.2 L301.2 114.3 L301.6 113.5 L302.0 112.6 L302.4 111.7 L302.8 110.7 L303.2 109.8 L303.6 108.8 L304.0 107.8 L304.5 106.8 L304.8 106.1 L305.1 105.4 L305.5 104.6 L305.8 103.9 L306.2 103.1 L306.6 102.3 L306.9 101.5 L307.3 100.7 L307.7 99.9 L308.1 99.1 L308.5 98.2 L308.8 97.4 L309.2 96.5 L309.6 95.7 L310.1 94.8 L310.5 93.9 L310.9 93.1 L311.3 92.2 L311.7 91.3 L312.1 90.4 L312.5 89.6 L312.9 88.7 L313.3 87.8 L313.7 87.0 L314.1 86.1 L314.5 85.3 L314.9 84.4 L315.3 83.6 L315.7 82.8 L316.1 81.9 L316.4 81.1 L316.8 80.3 L317.2 79.6 L317.5 78.8 L317.9 78.0 L318.2 77.3 L318.6 76.3 L319.1 75.4 L319.5 74.4 L319.9 73.5 L320.4 72.5 L320.8 71.6 L321.2 70.7 L321.6 69.8 L322.0 68.9 L322.4 68.0 L322.8 67.1 L323.2 66.3 L323.6 65.4 L323.9 64.5 L324.3 63.7 L324.7 62.9 L325.0 62.0 L325.4 61.2 L325.7 60.4 L326.1 59.7 L326.4 58.9 L326.8 58.1 L327.1 57.4 L327.4 56.6 L327.8 55.9 L328.1 55.2 L328.4 54.5 L328.9 53.4 L329.4 52.3 L329.9 51.3 L330.3 50.2 L330.8 49.2 L331.3 48.2 L331.7 47.2 L332.1 46.3 L332.5 45.4 L332.9 44.5 L333.3 43.7 L333.7 42.9 L334.0 42.2 L334.3 41.6 L334.5 41.0 L334.8 40.5 L335.0 40.0" fill="none" stroke="#2a4fae" stroke-width="1.35" stroke-dasharray="6.2 6.4" stroke-dashoffset="2.55" clip-path="url(#ca)"/>
<path d="M99.0 309.5 L99.5 309.0 L100.1 308.4 L100.8 307.7 L101.6 306.9 L102.4 305.9 L103.0 305.0 L103.4 304.3 L103.8 303.6 L104.1 302.8 L104.4 302.0 L104.7 301.1 L105.0 300.2 L105.2 299.2 L105.5 298.0 L105.6 297.2 L105.8 296.4 L105.9 295.5 L106.0 294.6 L106.1 293.6 L106.2 292.6 L106.3 291.6 L106.4 290.5 L106.5 289.5 L106.6 288.5 L106.7 287.5 L106.9 286.5 L107.0 285.5 L107.1 284.5 L107.3 283.6 L107.4 282.6 L107.6 281.7 L107.8 280.8 L107.9 279.8 L108.1 278.9 L108.3 277.9 L108.4 277.0 L108.6 276.0 L108.8 275.1 L108.9 274.1 L109.1 273.2 L109.3 272.2 L109.4 271.2 L109.6 270.2 L109.8 269.2 L110.0 268.1 L110.1 267.1 L110.3 266.0 L110.5 265.0 L110.6 264.1 L110.8 263.2 L110.9 262.4 L111.1 261.6 L111.2 261.0 L111.6 259.3 L111.9 258.6 L112.3 257.6 L112.5 256.9 L112.8 256.1 L113.1 255.2 L113.4 254.3 L113.7 253.4 L114.1 252.5 L114.4 251.6 L114.8 250.6 L115.2 249.7 L115.7 248.8 L116.2 247.9 L116.6 246.9 L117.0 246.0 L117.4 245.0 L117.7 244.0 L118.0 243.0 L118.3 242.0 L118.7 241.1 L119.1 240.1 L119.5 239.3 L120.0 238.6 L120.4 238.0 L120.9 237.3 L121.5 236.5 L122.0 235.6 L122.5 234.6 L122.8 233.9 L123.1 233.1 L123.4 232.3 L123.8 231.4 L124.1 230.5 L124.4 229.6 L124.7 228.6 L125.1 227.7 L125.4 226.7 L125.7 225.8 L126.1 224.9 L126.4 224.0 L126.7 223.1 L127.0 222.3 L127.4 221.5 L127.7 220.7 L128.0 219.9 L128.3 219.0 L128.6 218.2 L128.9 217.4 L129.3 216.5 L129.6 215.6 L129.9 214.7 L130.3 213.8 L130.6 213.0 L130.9 212.2 L131.2 211.4 L131.5 210.5 L131.8 209.7 L132.2 208.8 L132.5 207.9 L132.8 207.0 L133.2 206.1 L133.5 205.2 L133.8 204.4 L134.1 203.5 L134.4 202.6 L134.7 201.8 L135.0 201.0 L135.3 200.0 L135.7 199.1 L136.0 198.2 L136.3 197.3 L136.5 196.4 L136.8 195.5 L137.1 194.6 L137.4 193.7 L137.7 192.8 L138.0 191.9 L138.3 191.0 L138.6 190.0 L138.9 189.2 L139.1 188.4 L139.4 187.7 L139.7 186.9 L139.9 186.1 L140.2 185.3 L140.5 184.5 L140.7 183.7 L141.0 182.9 L141.3 182.0 L141.6 181.1 L142.0 180.1 L142.3 179.1 L142.6 178.1 L143.0 177.0 L143.2 176.3 L143.5 175.5 L143.7 174.8 L144.0 174.0 L144.2 173.2 L144.5 172.4 L144.8 171.6 L145.1 170.8 L145.3 169.9 L145.6 169.1 L145.9 168.2 L146.2 167.3 L146.5 166.4 L146.8 165.5 L147.1 164.6 L147.4 163.7 L147.7 162.7 L148.0 161.8 L148.3 160.8 L148.6 159.9 L148.9 158.9 L149.2 158.0 L149.5 157.0 L149.8 156.0 L150.0 155.2 L150.3 154.4 L150.5 153.6 L150.8 152.7 L151.1 151.9 L151.3 151.0 L151.6 150.1 L151.9 149.2 L152.1 148.3 L152.4 147.4 L152.7 146.5 L152.9 145.6 L153.2 144.7 L153.5 143.8 L153.7 142.9 L154.0 142.0 L154.3 141.0 L154.5 140.1 L154.8 139.2 L155.1 138.3 L155.3 137.4 L155.6 136.6 L155.9 135.7 L156.1 134.8 L156.4 134.0 L156.6 133.2 L156.9 132.3 L157.1 131.5 L157.4 130.8 L157.6 130.0 L157.9 129.0 L158.2 128.0 L158.5 127.1 L158.8 126.2 L159.1 125.3 L159.4 124.4 L159.7 123.6 L159.9 122.7 L160.2 121.9 L160.5 121.1 L160.8 120.3 L161.0 119.5 L161.3 118.7 L161.6 117.9 L161.8 117.1 L162.1 116.3 L162.4 115.4 L162.6 114.6 L162.9 113.7 L163.2 112.9 L163.5 111.9 L163.8 111.0 L164.1 110.2 L164.3 109.4 L164.6 108.6 L164.8 107.7 L165.1 106.9 L165.3 106.1 L165.6 105.3 L165.8 104.4 L166.1 103.6 L166.3 102.7 L166.6 101.9 L166.8 101.0 L167.1 100.2 L167.4 99.3 L167.6 98.4 L167.9 97.5 L168.2 96.6 L168.4 95.7 L168.7 94.8 L169.0 93.8 L169.3 92.9 L169.6 91.9 L169.9 91.0 L170.2 90.0 L170.5 89.0 L170.8 88.0 L171.0 87.2 L171.3 86.4 L171.6 85.6 L171.8 84.7 L172.1 83.9 L172.4 83.0 L172.7 82.1 L172.9 81.2 L173.2 80.3 L173.5 79.4 L173.8 78.4 L174.1 77.5 L174.4 76.6 L174.7 75.6 L175.0 74.7 L175.3 73.7 L175.6 72.8 L175.9 71.8 L176.2 70.9 L176.5 70.0 L176.8 69.1 L177.1 68.1 L177.4 67.2 L177.7 66.3 L178.0 65.5 L178.2 64.6 L178.5 63.7 L178.8 62.9 L179.0 62.1 L179.3 61.3 L179.5 60.6 L179.8 59.8 L180.0 59.1 L180.2 58.4 L180.6 57.2 L180.9 56.1 L181.3 55.1 L181.6 54.1 L181.9 53.2 L182.2 52.3 L182.4 51.5 L182.7 50.7 L182.9 49.9 L183.2 49.1 L183.4 48.4 L183.7 47.6 L183.9 46.9 L184.1 46.1 L184.4 45.4 L184.6 44.6 L184.9 43.7 L185.1 42.9 L185.4 42.0 L185.6 41.2 L185.9 40.3 L186.1 39.5 L186.4 38.6 L186.6 37.7 L186.9 36.8 L187.1 36.0 L187.4 35.1 L187.6 34.2 L187.9 33.3 L188.1 32.4 L188.4 31.5 L188.6 30.6 L188.9 29.7 L189.1 28.8 L189.4 27.9 L189.6 27.0 L189.9 26.1 L190.1 25.2 L190.4 24.4 L190.6 23.5 L190.9 22.6 L191.1 21.6 L191.4 20.7 L191.6 19.7 L191.9 18.8 L192.2 17.8 L192.4 16.8 L192.7 15.8 L193.0 14.9 L193.2 13.9 L193.5 13.0 L193.7 12.1 L194.0 11.2 L194.2 10.3 L194.4 9.4 L194.7 8.6 L194.9 7.9 L195.1 7.1 L195.2 6.4 L195.4 5.8 L195.8 4.2 L196.1 2.9 L196.4 1.8 L196.6 0.9 L196.8 0.1 L196.9 -0.5 L197.0 -1.0" fill="none" stroke="#2d8040" stroke-width="1.35" stroke-dasharray="6.2 6.4" stroke-dashoffset="2.24" clip-path="url(#ca)"/>
<path d="M97.5 309.5 L98.0 309.0 L98.7 308.4 L99.5 307.7 L100.3 306.9 L101.0 306.0 L101.5 305.2 L101.9 304.3 L102.3 303.4 L102.7 302.3 L103.0 301.0 L103.2 300.3 L103.3 299.4 L103.4 298.5 L103.5 297.6 L103.7 296.6 L103.8 295.6 L103.9 294.6 L104.0 293.7 L104.1 292.8 L104.2 292.0 L104.4 291.0 L104.5 290.2 L104.6 289.4 L104.8 288.7 L104.9 287.8 L105.0 286.8 L105.2 285.5 L105.3 284.8 L105.4 284.0 L105.4 283.3 L105.5 282.4 L105.6 281.6 L105.7 280.7 L105.8 279.7 L105.9 278.8 L106.0 277.8 L106.0 276.8 L106.1 275.7 L106.2 274.7 L106.3 273.6 L106.4 272.5 L106.5 271.4 L106.6 270.6 L106.6 269.7 L106.7 268.9 L106.8 268.0 L106.8 267.1 L106.9 266.2 L107.0 265.2 L107.1 264.3 L107.1 263.3 L107.2 262.4 L107.3 261.4 L107.3 260.4 L107.4 259.5 L107.5 258.5 L107.6 257.5 L107.6 256.6 L107.7 255.6 L107.8 254.7 L107.9 253.8 L107.9 252.9 L108.0 252.0 L108.1 251.0 L108.2 250.0 L108.2 249.0 L108.3 248.0 L108.4 247.1 L108.5 246.1 L108.6 245.2 L108.7 244.2 L108.8 243.3 L108.8 242.4 L108.9 241.4 L109.0 240.5 L109.1 239.6 L109.2 238.7 L109.2 237.7 L109.3 236.8 L109.4 235.9 L109.5 235.0 L109.6 234.0 L109.7 233.1 L109.8 232.1 L109.9 231.1 L109.9 230.1 L110.0 229.2 L110.1 228.2 L110.2 227.2 L110.3 226.3 L110.4 225.3 L110.5 224.4 L110.6 223.5 L110.6 222.5 L110.7 221.6 L110.8 220.7 L110.9 219.9 L111.0 219.0 L111.1 218.0 L111.2 216.9 L111.3 215.9 L111.4 214.9 L111.5 213.9 L111.7 212.9 L111.8 211.9 L111.9 211.0 L112.0 210.1 L112.1 209.2 L112.2 208.3 L112.3 207.5 L112.4 206.7 L112.5 206.0 L112.7 204.7 L112.9 203.5 L113.0 202.4 L113.2 201.5 L113.4 200.7 L113.6 199.9 L113.8 199.1 L114.2 198.0 L114.6 197.3 L115.1 196.6 L115.7 195.5 L116.1 194.8 L116.4 194.0 L116.9 193.1 L117.3 192.2 L117.8 191.3 L118.2 190.3 L118.7 189.4 L119.2 188.6 L119.7 187.8 L120.3 187.0 L120.8 186.2 L121.4 185.4 L122.0 184.6 L122.5 183.9 L123.0 183.2 L123.5 182.5 L124.1 181.5 L124.7 180.6 L125.2 179.8 L125.7 178.9 L126.2 177.9 L126.6 177.1 L126.9 176.3 L127.3 175.5 L127.6 174.6 L127.9 173.7 L128.3 172.9 L128.6 172.0 L128.9 171.2 L129.2 170.3 L129.6 169.5 L129.9 168.6 L130.2 167.8 L130.5 166.9 L130.8 166.0 L131.1 165.1 L131.4 164.2 L131.8 163.2 L132.1 162.3 L132.4 161.4 L132.7 160.4 L133.0 159.5 L133.3 158.6 L133.5 157.7 L133.7 156.8 L133.9 155.9 L134.1 155.0 L134.4 154.1 L134.6 153.2 L134.9 152.2 L135.3 151.2 L135.6 150.2 L136.0 149.3 L136.4 148.3 L136.7 147.3 L137.0 146.3 L137.3 145.3 L137.6 144.3 L137.8 143.3 L138.1 142.3 L138.4 141.3 L138.7 140.3 L139.0 139.3 L139.2 138.4 L139.5 137.4 L139.8 136.3 L140.1 135.3 L140.4 134.4 L140.6 133.4 L140.9 132.4 L141.1 131.4 L141.4 130.4 L141.6 129.4 L141.9 128.5 L142.2 127.5 L142.4 126.6 L142.7 125.7 L143.0 124.8 L143.3 123.8 L143.6 122.5 L143.8 121.8 L143.9 121.2 L144.1 120.5 L144.3 119.8 L144.5 119.1 L144.7 118.3 L144.9 117.5 L145.1 116.6 L145.3 115.6 L145.6 114.5 L145.9 113.2 L146.2 111.8 L146.3 111.2 L146.5 110.5 L146.6 109.8 L146.8 109.1 L147.0 108.3 L147.1 107.5 L147.3 106.7 L147.5 105.9 L147.7 105.1 L147.8 104.2 L148.0 103.4 L148.2 102.5 L148.4 101.6 L148.6 100.7 L148.8 99.7 L149.0 98.8 L149.2 97.9 L149.4 96.9 L149.6 95.9 L149.8 94.9 L150.0 94.0 L150.2 93.0 L150.4 92.0 L150.7 91.0 L150.9 90.0 L151.1 89.0 L151.3 88.0 L151.5 87.0 L151.7 86.2 L151.8 85.4 L152.0 84.5 L152.2 83.7 L152.4 82.8 L152.6 82.0 L152.7 81.1 L152.9 80.2 L153.1 79.3 L153.3 78.4 L153.5 77.5 L153.7 76.6 L153.9 75.7 L154.1 74.8 L154.3 73.8 L154.5 72.9 L154.7 72.0 L154.9 71.0 L155.1 70.1 L155.3 69.2 L155.5 68.3 L155.7 67.3 L155.8 66.4 L156.0 65.5 L156.2 64.6 L156.4 63.7 L156.6 62.8 L156.8 61.9 L157.0 61.0 L157.1 60.2 L157.3 59.3 L157.5 58.5 L157.7 57.6 L157.8 56.8 L158.0 56.0 L158.2 55.0 L158.4 54.0 L158.6 53.0 L158.8 52.1 L159.0 51.1 L159.2 50.2 L159.4 49.2 L159.6 48.3 L159.8 47.3 L160.0 46.4 L160.1 45.5 L160.3 44.6 L160.5 43.7 L160.7 42.8 L160.9 41.9 L161.0 41.0 L161.2 40.2 L161.4 39.3 L161.5 38.5 L161.7 37.6 L161.9 36.8 L162.0 35.9 L162.2 35.1 L162.3 34.3 L162.5 33.4 L162.6 32.6 L162.8 31.8 L162.9 31.0 L163.1 30.0 L163.2 28.9 L163.4 27.9 L163.6 26.8 L163.8 25.7 L163.9 24.6 L164.1 23.6 L164.2 22.5 L164.4 21.5 L164.5 20.4 L164.7 19.4 L164.8 18.5 L164.9 17.5 L165.0 16.6 L165.2 15.7 L165.3 14.9 L165.4 14.1 L165.5 13.4 L165.6 12.7 L165.7 12.0 L165.7 11.5 L165.8 11.0" fill="none" stroke="#e92a2a" stroke-width="1.35" stroke-dasharray="6.2 6.4" stroke-dashoffset="0.38" clip-path="url(#ca)"/>
<path d="M96.5 309.5 L96.9 309.1 L97.5 308.5 L98.2 307.7 L98.9 306.9 L99.5 306.0 L99.9 305.4 L100.2 304.8 L100.6 304.3 L100.9 303.6 L101.3 302.7 L101.6 301.5 L102.0 300.0 L102.1 299.4 L102.3 298.7 L102.4 298.0 L102.5 297.2 L102.6 296.5 L102.8 295.6 L102.9 294.8 L103.0 293.9 L103.2 293.0 L103.3 292.1 L103.4 291.1 L103.6 290.1 L103.7 289.1 L103.8 288.1 L104.0 287.1 L104.1 286.0 L104.2 284.9 L104.3 283.8 L104.5 282.7 L104.6 281.6 L104.7 280.8 L104.8 280.0 L104.9 279.2 L104.9 278.3 L105.0 277.5 L105.1 276.6 L105.2 275.7 L105.3 274.8 L105.4 273.9 L105.4 273.0 L105.5 272.1 L105.6 271.1 L105.7 270.2 L105.8 269.3 L105.8 268.3 L105.9 267.3 L106.0 266.4 L106.1 265.4 L106.2 264.4 L106.3 263.5 L106.3 262.5 L106.4 261.6 L106.5 260.6 L106.6 259.7 L106.7 258.7 L106.7 257.8 L106.8 256.8 L106.9 255.9 L107.0 255.0 L107.1 254.1 L107.2 253.2 L107.3 252.3 L107.3 251.3 L107.4 250.4 L107.5 249.5 L107.6 248.6 L107.7 247.6 L107.8 246.7 L107.9 245.8 L108.0 244.9 L108.1 243.9 L108.1 243.0 L108.2 242.1 L108.3 241.2 L108.4 240.3 L108.5 239.4 L108.6 238.5 L108.7 237.6 L108.8 236.7 L108.8 235.8 L108.9 234.9 L109.0 234.0 L109.1 233.2 L109.2 232.3 L109.3 231.5 L109.3 230.6 L109.4 229.8 L109.5 229.0 L109.6 228.0 L109.7 227.0 L109.8 226.0 L109.9 225.1 L110.0 224.1 L110.0 223.2 L110.1 222.3 L110.2 221.4 L110.3 220.5 L110.4 219.6 L110.5 218.8 L110.5 217.9 L110.6 217.0 L110.7 216.1 L110.8 215.3 L110.9 214.4 L111.0 213.5 L111.0 212.6 L111.1 211.7 L111.2 210.8 L111.3 209.9 L111.4 208.9 L111.5 208.0 L111.6 207.1 L111.7 206.2 L111.8 205.3 L111.9 204.4 L112.0 203.4 L112.1 202.5 L112.1 201.6 L112.2 200.6 L112.3 199.7 L112.4 198.7 L112.5 197.7 L112.6 196.8 L112.7 195.8 L112.8 194.9 L112.9 193.9 L113.0 193.0 L113.1 192.1 L113.2 191.1 L113.3 190.2 L113.4 189.3 L113.5 188.4 L113.6 187.5 L113.7 186.7 L113.8 185.8 L113.9 185.0 L114.0 184.0 L114.1 183.0 L114.2 182.0 L114.3 181.0 L114.5 180.1 L114.6 179.2 L114.7 178.3 L114.8 177.3 L114.9 176.4 L115.0 175.6 L115.1 174.7 L115.2 173.8 L115.3 173.0 L115.4 172.1 L115.5 171.2 L115.7 170.4 L115.8 169.5 L115.9 168.7 L116.0 167.8 L116.1 167.0 L116.2 166.0 L116.4 165.1 L116.5 164.1 L116.6 163.2 L116.7 162.3 L116.9 161.4 L117.0 160.6 L117.1 159.7 L117.3 158.8 L117.4 157.9 L117.5 157.0 L117.7 156.1 L117.8 155.1 L118.0 154.1 L118.1 153.1 L118.3 152.1 L118.5 151.0 L118.6 150.2 L118.8 149.4 L118.9 148.5 L119.1 147.7 L119.2 146.8 L119.4 145.9 L119.5 145.0 L119.7 144.1 L119.8 143.2 L120.0 142.2 L120.2 141.3 L120.3 140.4 L120.5 139.4 L120.7 138.5 L120.9 137.5 L121.0 136.6 L121.2 135.6 L121.4 134.7 L121.6 133.8 L121.7 132.8 L121.9 131.9 L122.1 131.0 L122.2 130.2 L122.4 129.3 L122.6 128.3 L122.8 127.4 L123.0 126.5 L123.1 125.6 L123.3 124.7 L123.5 123.8 L123.7 123.0 L123.8 122.1 L124.0 121.3 L124.2 120.4 L124.4 119.6 L124.6 118.7 L124.8 117.8 L124.9 116.9 L125.1 116.0 L125.3 115.1 L125.5 114.1 L125.7 113.1 L126.0 112.1 L126.2 111.1 L126.4 110.0 L126.6 109.2 L126.7 108.4 L126.9 107.6 L127.1 106.8 L127.2 106.0 L127.4 105.1 L127.6 104.3 L127.8 103.4 L127.9 102.5 L128.1 101.6 L128.3 100.7 L128.5 99.8 L128.7 98.9 L128.9 98.0 L129.1 97.1 L129.3 96.1 L129.5 95.2 L129.7 94.3 L129.8 93.3 L130.0 92.4 L130.2 91.5 L130.4 90.5 L130.6 89.6 L130.8 88.6 L131.0 87.7 L131.2 86.7 L131.4 85.8 L131.6 84.9 L131.8 83.9 L132.0 83.0 L132.2 82.1 L132.4 81.3 L132.6 80.4 L132.7 79.5 L132.9 78.6 L133.1 77.7 L133.3 76.8 L133.5 75.9 L133.7 75.0 L133.9 74.1 L134.1 73.1 L134.3 72.2 L134.5 71.3 L134.7 70.4 L134.8 69.5 L135.0 68.6 L135.2 67.6 L135.4 66.7 L135.6 65.8 L135.8 64.9 L136.0 64.0 L136.2 63.1 L136.4 62.2 L136.6 61.3 L136.7 60.5 L136.9 59.6 L137.1 58.7 L137.3 57.9 L137.5 57.0 L137.7 56.2 L137.8 55.3 L138.0 54.5 L138.2 53.5 L138.4 52.6 L138.6 51.6 L138.8 50.7 L139.0 49.8 L139.2 48.9 L139.4 48.0 L139.5 47.1 L139.7 46.2 L139.9 45.3 L140.1 44.4 L140.3 43.6 L140.4 42.7 L140.6 41.8 L140.8 41.0 L141.0 40.1 L141.2 39.2 L141.3 38.4 L141.5 37.5 L141.7 36.7 L141.9 35.8 L142.1 34.9 L142.2 34.1 L142.4 33.2 L142.6 32.3 L142.8 31.4 L143.0 30.5 L143.2 29.6 L143.4 28.7 L143.6 27.8 L143.8 26.9 L144.0 25.9 L144.2 24.9 L144.4 24.0 L144.6 23.0 L144.8 22.0 L145.1 21.0 L145.3 20.1 L145.5 19.1 L145.7 18.1 L145.9 17.1 L146.1 16.2 L146.3 15.2 L146.5 14.3 L146.7 13.4 L146.9 12.5 L147.1 11.6 L147.3 10.8 L147.5 10.0 L147.7 9.2 L147.8 8.4 L148.0 7.7 L148.1 7.0 L148.3 6.4 L148.4 5.8 L148.8 4.0 L149.1 2.5 L149.3 1.3 L149.5 0.4 L149.7 -0.4 L149.8 -1.0 L149.9 -1.5 L150.0 -2.0" fill="none" stroke="#26baba" stroke-width="1.35" stroke-dasharray="6.2 6.4" stroke-dashoffset="11.28" clip-path="url(#ca)"/>
<g stroke="#000" stroke-width="0.72"><line x1="34.50" y1="309.50" x2="34.50" y2="304.90"/><line x1="34.50" y1="5.90" x2="34.50" y2="10.50"/><line x1="76.57" y1="309.50" x2="76.57" y2="304.90"/><line x1="76.57" y1="5.90" x2="76.57" y2="10.50"/><line x1="118.64" y1="309.50" x2="118.64" y2="304.90"/><line x1="118.64" y1="5.90" x2="118.64" y2="10.50"/><line x1="160.71" y1="309.50" x2="160.71" y2="304.90"/><line x1="160.71" y1="5.90" x2="160.71" y2="10.50"/><line x1="202.79" y1="309.50" x2="202.79" y2="304.90"/><line x1="202.79" y1="5.90" x2="202.79" y2="10.50"/><line x1="244.86" y1="309.50" x2="244.86" y2="304.90"/><line x1="244.86" y1="5.90" x2="244.86" y2="10.50"/><line x1="286.93" y1="309.50" x2="286.93" y2="304.90"/><line x1="286.93" y1="5.90" x2="286.93" y2="10.50"/><line x1="329.00" y1="309.50" x2="329.00" y2="304.90"/><line x1="329.00" y1="5.90" x2="329.00" y2="10.50"/><line x1="34.50" y1="309.50" x2="39.30" y2="309.50"/><line x1="34.50" y1="271.55" x2="39.30" y2="271.55"/><line x1="34.50" y1="233.60" x2="39.30" y2="233.60"/><line x1="34.50" y1="195.65" x2="39.30" y2="195.65"/><line x1="34.50" y1="157.70" x2="39.30" y2="157.70"/><line x1="34.50" y1="119.75" x2="39.30" y2="119.75"/><line x1="34.50" y1="81.80" x2="39.30" y2="81.80"/><line x1="34.50" y1="43.85" x2="39.30" y2="43.85"/><line x1="34.50" y1="5.90" x2="39.30" y2="5.90"/><line x1="329.00" y1="309.50" x2="324.20" y2="309.50"/><line x1="329.00" y1="258.90" x2="324.20" y2="258.90"/><line x1="329.00" y1="208.30" x2="324.20" y2="208.30"/><line x1="329.00" y1="157.70" x2="324.20" y2="157.70"/><line x1="329.00" y1="107.10" x2="324.20" y2="107.10"/><line x1="329.00" y1="56.50" x2="324.20" y2="56.50"/><line x1="329.00" y1="5.90" x2="324.20" y2="5.90"/></g><rect x="34.50" y="5.90" width="294.50" height="303.60" fill="none" stroke="#000" stroke-width="1.1"/>
<line x1="50" y1="309.5" x2="97" y2="309.5" stroke="#1f5050" stroke-width="1.1"/>
<path d="M440.0 309.5 L441.0 309.5 L442.1 309.5 L443.0 309.5 L444.1 309.5 L445.1 309.5 L446.1 309.5 L447.1 309.6 L448.2 309.6 L449.3 309.6 L450.5 309.6 L451.6 309.6 L452.5 309.6 L453.5 309.6 L454.4 309.6 L455.3 309.6 L456.2 309.6 L457.2 309.7 L458.1 309.7 L459.0 309.7 L460.0 309.7 L460.9 309.7 L461.8 309.7 L462.7 309.7 L463.9 309.7 L465.0 309.7 L466.2 309.7 L467.3 309.7 L468.3 309.7 L469.3 309.7 L470.3 309.6 L471.4 309.6 L472.4 309.6 L473.3 309.6 L474.2 309.5 L475.9 309.4 L476.8 309.3 L476.7 308.3 L476.0 307.8 L475.8 306.8 L476.1 305.9 L476.3 305.0 L476.5 303.9 L476.7 302.8 L476.8 301.7 L477.0 300.5 L477.0 299.5 L477.1 298.6 L477.2 297.6 L477.3 296.6 L477.3 295.5 L477.4 294.6 L477.4 293.7 L477.5 292.7 L477.5 291.7 L477.6 290.7 L477.6 289.6 L477.7 288.5 L477.7 287.4 L477.8 286.3 L477.8 285.1 L477.9 284.0 L477.9 282.8 L477.9 281.9 L478.0 280.9 L478.0 280.0 L478.0 279.0 L478.1 277.9 L478.1 276.9 L478.1 275.8 L478.1 274.7 L478.1 273.7 L478.2 272.6 L478.2 271.5 L478.2 270.4 L478.2 269.5 L478.2 268.5 L478.2 267.6 L478.2 266.6 L478.3 265.7 L478.3 264.7 L478.3 263.7 L478.3 262.6 L478.3 261.6 L478.3 260.5 L478.3 259.4 L478.3 258.3 L478.3 257.2 L478.3 256.0 L478.4 254.8 L478.4 253.9 L478.4 252.9 L478.4 252.0 L478.4 251.0 L478.4 250.0 L478.4 249.0 L478.4 247.9 L478.4 246.9 L478.4 245.7 L478.4 244.8 L478.5 243.9 L478.5 243.0 L478.5 242.0 L478.5 241.0 L478.5 240.1 L478.5 239.1 L478.5 238.0 L478.5 237.0 L478.5 236.0 L478.5 235.0 L478.5 233.9 L478.5 232.9 L478.5 231.8 L478.5 230.7 L478.6 229.6 L478.6 228.6 L478.6 227.5 L478.6 226.4 L478.6 225.3 L478.6 224.2 L478.6 223.1 L478.6 222.0 L478.6 221.0 L478.6 219.9 L478.6 218.8 L478.6 217.7 L478.6 216.7 L478.6 215.6 L478.7 214.5 L478.7 213.5 L478.7 212.4 L478.7 211.4 L478.7 210.4 L478.7 209.4 L478.7 208.4 L478.7 207.4 L478.7 206.4 L478.7 205.4 L478.7 204.5 L478.8 203.6 L478.8 202.6 L478.8 201.5 L478.8 200.4 L478.8 199.4 L478.8 198.2 L478.8 197.0 L478.9 195.9 L478.9 194.8 L478.9 193.7 L478.9 192.6 L478.9 191.6 L479.0 190.6 L479.0 189.6 L479.0 188.6 L479.0 187.6 L479.0 186.6 L479.1 185.6 L479.1 184.7 L479.1 183.7 L479.1 182.8 L479.1 181.9 L479.2 180.9 L479.2 180.0 L479.2 179.1 L479.2 178.2 L479.3 177.3 L479.3 176.3 L479.3 175.4 L479.3 174.5 L479.3 173.5 L479.4 172.6 L479.4 171.6 L479.4 170.6 L479.4 169.6 L479.4 168.6 L479.5 167.6 L479.5 166.6 L479.5 165.5 L479.5 164.5 L479.5 163.6 L479.5 162.6 L479.5 161.7 L479.6 160.7 L479.6 159.7 L479.6 158.8 L479.6 157.8 L479.6 156.8 L479.6 155.8 L479.6 154.8 L479.6 153.8 L479.7 152.8 L479.7 151.8 L479.7 150.7 L479.7 149.7 L479.7 148.7 L479.7 147.7 L479.7 146.7 L479.7 145.6 L479.7 144.6 L479.7 143.6 L479.8 142.6 L479.8 141.5 L479.8 140.5 L479.8 139.5 L479.8 138.5 L479.8 137.4 L479.8 136.4 L479.8 135.4 L479.9 134.4 L479.9 133.4 L479.9 132.4 L479.9 131.4 L479.9 130.4 L479.9 129.4 L479.9 128.4 L480.0 127.4 L480.0 126.5 L480.0 125.5 L480.0 124.5 L480.0 123.4 L480.1 122.4 L480.1 121.4 L480.1 120.3 L480.1 119.3 L480.1 118.3 L480.2 117.2 L480.2 116.2 L480.2 115.2 L480.2 114.2 L480.3 113.1 L480.3 112.1 L480.3 111.1 L480.4 110.1 L480.4 109.1 L480.4 108.1 L480.4 107.1 L480.5 106.1 L480.5 105.1 L480.5 104.1 L480.6 103.1 L480.6 102.1 L480.6 101.1 L480.6 100.1 L480.7 99.1 L480.7 98.1 L480.7 97.1 L480.8 96.2 L480.8 95.2 L480.8 94.2 L480.8 93.3 L480.9 92.3 L480.9 91.3 L480.9 90.4 L481.0 89.4 L481.0 88.5 L481.0 87.5 L481.0 86.4 L481.1 85.3 L481.1 84.2 L481.1 83.1 L481.2 82.0 L481.2 80.9 L481.2 79.8 L481.3 78.7 L481.3 77.6 L481.3 76.5 L481.4 75.4 L481.4 74.3 L481.4 73.3 L481.5 72.2 L481.5 71.1 L481.5 70.0 L481.5 69.0 L481.6 67.9 L481.6 66.9 L481.6 65.9 L481.7 64.9 L481.7 63.9 L481.7 63.0 L481.8 62.0 L481.8 61.1 L481.8 60.0 L481.9 58.9 L481.9 57.9 L481.9 56.9 L482.0 55.9 L482.0 55.0 L482.0 53.7 L482.1 52.5 L482.1 51.3 L482.2 50.2 L482.2 49.1 L482.3 48.1 L482.3 47.1 L482.4 46.2 L482.4 45.1 L482.5 44.1 L482.6 43.1 L482.6 42.2 L483.0 43.1 L483.1 44.1 L483.2 45.1 L483.2 46.2 L483.3 47.1 L483.3 48.1 L483.4 49.1 L483.4 50.2 L483.5 51.3 L483.5 52.5 L483.6 53.7 L483.6 55.0 L483.6 55.9 L483.7 56.9 L483.7 57.9 L483.7 58.9 L483.8 60.0 L483.8 61.1 L483.8 62.0 L483.9 63.0 L483.9 63.9 L483.9 64.9 L483.9 65.9 L484.0 66.9 L484.0 67.9 L484.0 69.0 L484.1 70.0 L484.1 71.1 L484.1 72.2 L484.1 73.3 L484.2 74.3 L484.2 75.4 L484.2 76.5 L484.2 77.6 L484.3 78.7 L484.3 79.8 L484.3 80.9 L484.4 82.0 L484.4 83.1 L484.4 84.2 L484.4 85.3 L484.5 86.4 L484.5 87.5 L484.5 88.5 L484.5 89.4 L484.6 90.4 L484.6 91.3 L484.6 92.3 L484.6 93.3 L484.6 94.2 L484.7 95.2 L484.7 96.2 L484.7 97.1 L484.7 98.1 L484.8 99.1 L484.8 100.1 L484.8 101.1 L484.8 102.1 L484.8 103.1 L484.9 104.1 L484.9 105.1 L484.9 106.1 L484.9 107.1 L485.0 108.1 L485.0 109.1 L485.0 110.1 L485.0 111.1 L485.0 112.1 L485.1 113.1 L485.1 114.2 L485.1 115.2 L485.1 116.2 L485.1 117.2 L485.2 118.3 L485.2 119.3 L485.2 120.3 L485.2 121.4 L485.2 122.4 L485.3 123.4 L485.3 124.5 L485.3 125.5 L485.3 126.5 L485.3 127.4 L485.4 128.4 L485.4 129.4 L485.4 130.4 L485.4 131.4 L485.4 132.4 L485.4 133.4 L485.5 134.4 L485.5 135.4 L485.5 136.4 L485.5 137.4 L485.5 138.5 L485.5 139.5 L485.6 140.5 L485.6 141.5 L485.6 142.6 L485.6 143.6 L485.6 144.6 L485.6 145.6 L485.6 146.7 L485.7 147.7 L485.7 148.7 L485.7 149.7 L485.7 150.7 L485.7 151.8 L485.7 152.8 L485.8 153.8 L485.8 154.8 L485.8 155.8 L485.8 156.8 L485.8 157.8 L485.9 158.8 L485.9 159.7 L485.9 160.7 L485.9 161.7 L485.9 162.6 L486.0 163.6 L486.0 164.5 L486.0 165.5 L486.0 166.6 L486.1 167.6 L486.1 168.7 L486.1 169.7 L486.2 170.7 L486.2 171.7 L486.2 172.7 L486.3 173.7 L486.3 174.7 L486.3 175.7 L486.4 176.7 L486.4 177.7 L486.4 178.6 L486.5 179.6 L486.5 180.6 L486.5 181.5 L486.6 182.5 L486.6 183.5 L486.7 184.4 L486.7 185.4 L486.7 186.4 L486.8 187.3 L486.8 188.3 L486.9 189.3 L486.9 190.3 L486.9 191.3 L487.0 192.3 L487.0 193.3 L487.1 194.3 L487.1 195.3 L487.2 196.3 L487.2 197.4 L487.2 198.4 L487.3 199.5 L487.3 200.5 L487.4 201.4 L487.4 202.4 L487.4 203.4 L487.5 204.4 L487.5 205.4 L487.6 206.4 L487.6 207.4 L487.6 208.5 L487.7 209.5 L487.7 210.6 L487.8 211.7 L487.8 212.7 L487.9 213.8 L487.9 214.9 L488.0 216.0 L488.0 217.0 L488.1 218.1 L488.1 219.2 L488.1 220.3 L488.2 221.3 L488.2 222.4 L488.3 223.5 L488.3 224.5 L488.4 225.6 L488.4 226.6 L488.5 227.6 L488.5 228.7 L488.6 229.7 L488.6 230.7 L488.6 231.6 L488.7 232.6 L488.7 233.5 L488.8 234.5 L488.8 235.4 L488.8 236.5 L488.9 237.6 L488.9 238.6 L489.0 239.6 L489.0 240.7 L489.1 241.7 L489.1 242.7 L489.2 243.7 L489.2 244.6 L489.2 245.5 L489.3 246.6 L489.3 247.8 L489.4 248.8 L489.4 249.9 L489.5 250.9 L489.5 251.9 L489.6 252.8 L489.6 253.7 L489.6 254.8 L489.7 255.9 L489.7 257.0 L489.8 258.0 L489.8 259.1 L489.9 260.1 L490.0 261.2 L490.0 262.3 L490.1 263.2 L490.1 264.4 L490.2 265.5 L490.3 266.5 L490.3 267.6 L490.4 268.6 L490.4 269.6 L490.5 270.5 L490.6 271.4 L490.6 272.4 L490.7 273.3 L490.8 274.2 L490.8 275.1 L490.9 276.1 L491.0 277.0 L491.1 278.1 L491.2 279.1 L491.3 280.2 L491.4 281.3 L491.5 282.4 L491.6 283.5 L491.7 284.5 L491.9 285.5 L492.0 286.5 L492.1 287.5 L492.2 288.4 L492.4 289.5 L492.6 290.5 L492.8 291.5 L493.1 292.4 L493.4 293.5 L493.7 294.5 L494.1 295.4 L494.5 296.4 L494.9 297.3 L495.4 298.4 L495.9 299.3 L496.5 300.3 L497.0 301.0 L497.6 301.8 L498.2 302.6 L499.0 303.3 L499.8 303.9 L500.6 304.5 L501.3 304.6 L502.1 305.0 L502.6 304.5 L503.1 305.6 L503.7 304.5 L504.2 304.7 L504.9 306.0 L505.5 305.7 L506.2 307.1 L506.9 306.9 L507.6 306.2 L508.2 306.2 L508.7 306.1 L509.3 306.6 L510.0 307.3 L510.5 307.7 L511.2 307.0 L511.8 307.7 L512.6 307.2 L513.1 306.4 L513.6 306.0 L514.1 306.0 L514.7 305.8 L515.2 307.1 L515.7 306.9 L516.3 305.9 L516.8 306.3 L517.4 306.1 L517.9 306.4 L518.5 307.2 L519.0 307.0 L519.5 305.8 L520.0 305.8 L520.8 307.0 L521.3 306.4 L521.8 307.5 L522.3 306.9 L522.8 305.6 L523.3 306.1 L524.1 306.7 L524.8 307.3 L525.5 306.1 L526.3 308.0 L527.0 307.6 L527.7 306.8 L528.5 308.3 L529.0 308.0 L529.5 308.6 L530.0 307.3 L530.5 307.0 L531.3 307.4 L531.8 307.1 L532.3 307.4 L532.8 307.8 L533.3 307.9 L533.9 309.6 L534.4 308.0 L534.9 308.2 L535.5 308.5 L536.0 308.8 L536.6 308.6 L537.1 308.6 L537.6 308.5 L538.1 308.0 L538.6 307.8 L539.4 308.3 L540.1 308.1 L540.8 308.0 L541.3 307.4 L541.8 307.9 L542.4 308.0 L542.9 307.5 L543.4 307.6 L543.9 307.2 L544.7 307.9 L545.4 308.0 L546.1 308.0 L546.7 306.9 L547.4 307.3 L548.1 306.2 L548.7 306.5 L549.2 305.6 L549.7 305.1 L550.5 305.3 L551.2 305.5 L551.8 305.4 L552.5 304.9 L553.2 304.3 L553.9 304.3 L554.6 304.4 L555.2 303.3 L555.8 303.0 L556.5 303.0 L557.1 301.2 L557.7 300.7 L558.3 300.1 L558.9 299.7 L559.6 300.1 L560.2 298.7 L560.8 299.4 L561.4 299.1 L562.1 299.9 L562.7 300.5 L563.4 299.8 L564.0 300.3 L564.7 301.6 L565.3 302.3 L566.0 302.5 L566.7 302.5 L567.4 302.8 L568.1 302.3 L568.8 302.2 L569.5 301.5 L570.3 300.7 L571.0 300.3 L571.8 299.9 L572.5 300.1 L573.2 299.4 L573.9 300.0 L574.6 299.2 L575.4 299.3 L575.9 298.9 L576.4 299.0 L577.0 298.5 L577.5 299.6 L578.2 300.2 L578.9 299.5 L579.7 299.3 L580.4 300.9 L580.9 300.3 L581.6 298.8 L582.3 299.0 L583.1 298.2 L583.8 298.9 L584.5 299.8 L585.2 298.6 L586.0 298.4 L586.5 298.1 L587.0 298.1 L587.6 297.9 L588.3 297.7 L588.9 297.6 L589.6 296.2 L590.2 295.7 L590.9 295.4 L591.6 294.9 L592.2 293.8 L592.9 294.4 L593.6 294.3 L594.2 294.1 L594.8 295.4 L595.5 295.1 L596.1 294.2 L596.7 295.6 L597.3 296.3 L598.0 297.1 L598.6 297.6 L599.2 297.6 L599.8 298.4 L600.4 298.2 L601.0 298.1 L601.6 300.0 L602.2 300.6 L602.7 302.3 L603.3 302.0 L603.9 302.1 L604.4 302.4 L605.0 303.1 L605.6 302.7 L606.2 303.9 L606.8 304.7 L607.4 305.4 L608.1 305.6 L608.8 306.6 L609.5 306.7 L610.2 307.4 L610.9 306.4 L611.6 307.2 L612.3 307.7 L612.8 307.7 L613.3 307.1 L613.9 307.4 L614.4 307.3 L615.1 305.7 L615.8 306.9 L616.5 307.8 L617.2 306.2 L617.9 306.4 L618.7 306.2 L619.2 305.6 L619.7 305.4 L620.2 305.9 L620.7 304.9 L621.2 305.7 L621.7 304.7 L622.2 303.7 L623.0 303.2 L623.7 304.4 L624.4 303.8 L625.1 303.9 L625.8 302.7 L626.5 302.6 L627.2 302.5 L628.0 299.9 L628.7 301.9 L629.4 301.1 L630.1 301.4 L630.8 299.9 L631.5 300.6 L632.1 299.9 L632.8 300.6 L633.5 300.1 L634.1 300.6 L634.6 300.4 L635.1 300.9 L635.8 301.5 L636.6 301.6 L637.3 300.7 L638.1 300.8 L638.8 300.7 L639.3 300.9 L639.8 301.4 L640.4 300.9 L640.9 300.6 L641.6 301.5 L642.3 301.0 L642.9 301.1 L643.7 301.2 L644.4 300.8 L645.1 300.0 L645.8 299.7 L646.6 298.8 L647.3 298.3 L648.0 299.3 L648.7 298.6 L649.5 298.7 L650.2 297.8 L650.9 298.3 L651.7 298.2 L652.4 297.8 L653.1 298.5 L653.8 299.5 L654.6 299.3 L655.3 299.8 L656.0 299.4 L656.8 299.0 L657.3 299.9 L657.8 299.2 L658.3 299.1 L658.8 299.8 L659.3 300.3 L659.8 301.0 L660.6 300.8 L661.3 300.2 L662.0 299.2 L662.7 299.7 L663.5 300.1 L664.2 300.6 L664.7 299.9 L665.2 299.6 L665.7 299.7 L666.3 299.5 L666.8 299.7 L667.3 299.5 L667.8 300.1 L668.4 299.8 L668.9 297.6 L669.4 298.7 L670.0 298.5 L670.5 298.5 L671.2 299.4 L672.0 299.0 L672.5 299.3 L673.0 298.6 L673.5 299.8 L674.0 298.9 L674.5 298.6 L675.0 299.2 L675.6 300.0 L676.1 298.9 L676.6 299.4 L677.2 299.1 L677.7 299.9 L678.2 299.3 L678.7 298.3 L679.2 299.7 L679.7 299.9 L680.5 299.6 L681.2 300.8 L681.9 299.7 L682.6 300.8 L683.3 300.5 L683.9 300.2 L684.4 300.1 L684.9 299.8 L685.5 299.4 L686.2 300.0 L686.9 299.0 L687.6 299.2 L688.2 297.7 L688.9 298.2 L689.6 296.9 L690.3 297.4 L691.1 297.4 L691.6 298.0 L692.3 298.1 L692.9 297.6 L693.6 297.6 L694.2 297.8 L694.8 297.6 L695.5 297.5 L696.2 297.8 L696.9 297.6 L697.6 298.0 L698.1 297.8 L698.6 298.2 L699.2 298.9 L699.8 298.2 L700.4 299.7 L701.0 300.0 L701.7 299.3 L702.3 299.1 L703.0 300.9 L703.7 299.6 L704.4 300.6 L705.0 300.6 L705.5 300.3 L706.1 300.3 L706.6 299.6 L707.2 298.9 L707.8 300.1 L708.4 299.4 L709.0 299.6 L709.5 301.0 L710.1 299.8 L710.7 300.0 L711.3 299.5 L711.9 300.5 L712.5 299.5 L713.1 301.0 L713.7 300.9 L714.2 300.9 L714.8 300.5 L715.3 300.0 L715.8 301.9 L716.3 301.0 L717.1 301.2 L717.7 300.7 L718.4 301.2 L718.9 300.2 L719.4 301.2 L720.0 300.0" fill="none" stroke="#2352ad" stroke-width="1.35" stroke-linejoin="round" clip-path="url(#cb)"/>
<path d="M440.0 309.5 L441.0 309.5 L442.0 309.5 L443.0 309.6 L444.1 309.6 L445.1 309.6 L446.0 309.7 L447.1 309.7 L448.2 309.7 L449.3 309.8 L450.4 309.8 L451.6 309.9 L452.8 309.9 L453.7 309.9 L454.6 310.0 L455.5 310.0 L456.5 310.0 L457.4 310.0 L458.3 310.1 L459.3 310.1 L460.2 310.1 L461.1 310.1 L462.0 310.1 L462.9 310.1 L464.1 310.1 L465.3 310.1 L466.4 310.1 L467.5 310.1 L468.6 310.1 L469.6 310.0 L470.5 310.0 L471.5 309.9 L472.5 309.9 L473.4 309.8 L474.4 309.6 L475.5 309.4 L476.7 309.0 L477.5 308.5 L478.0 307.6 L477.9 306.4 L477.5 305.4 L477.1 304.5 L476.8 303.6 L476.6 302.5 L476.5 301.4 L476.5 300.5 L476.6 299.5 L476.7 298.5 L476.8 297.5 L476.8 296.4 L476.9 295.3 L477.0 294.4 L477.0 293.5 L477.1 292.5 L477.1 291.5 L477.2 290.4 L477.2 289.3 L477.2 288.2 L477.3 287.0 L477.3 285.8 L477.4 284.9 L477.4 284.0 L477.5 283.0 L477.5 282.0 L477.5 281.0 L477.6 280.0 L477.6 279.0 L477.7 277.9 L477.7 276.8 L477.7 275.8 L477.8 274.7 L477.8 273.6 L477.9 272.7 L477.9 271.7 L477.9 270.8 L478.0 269.9 L478.0 268.9 L478.0 267.9 L478.1 266.9 L478.1 265.9 L478.1 264.9 L478.2 263.9 L478.2 262.8 L478.2 261.8 L478.2 260.7 L478.3 259.6 L478.3 258.4 L478.3 257.3 L478.4 256.1 L478.4 255.0 L478.4 254.0 L478.4 253.1 L478.5 252.2 L478.5 251.3 L478.5 250.3 L478.5 249.4 L478.5 248.3 L478.5 247.2 L478.6 246.1 L478.6 245.2 L478.6 244.3 L478.6 243.3 L478.6 242.4 L478.6 241.4 L478.6 240.4 L478.7 239.4 L478.7 238.4 L478.7 237.4 L478.7 236.4 L478.7 235.3 L478.7 234.3 L478.7 233.2 L478.7 232.2 L478.7 231.1 L478.8 230.0 L478.8 229.0 L478.8 227.9 L478.8 226.8 L478.8 225.7 L478.8 224.6 L478.8 223.6 L478.8 222.5 L478.8 221.4 L478.9 220.3 L478.9 219.2 L478.9 218.2 L478.9 217.1 L478.9 216.0 L478.9 215.0 L478.9 213.9 L478.9 212.9 L478.9 211.9 L478.9 210.8 L479.0 209.8 L479.0 208.8 L479.0 207.8 L479.0 206.9 L479.0 205.9 L479.0 204.9 L479.0 204.0 L479.0 203.1 L479.1 202.2 L479.1 201.1 L479.1 200.0 L479.1 199.1 L479.1 198.2 L479.2 197.0 L479.2 195.8 L479.2 194.7 L479.2 193.5 L479.2 192.4 L479.3 191.2 L479.3 190.1 L479.3 189.0 L479.3 187.9 L479.4 186.8 L479.4 185.7 L479.4 184.7 L479.4 183.6 L479.5 182.6 L479.5 181.6 L479.5 180.6 L479.5 179.6 L479.6 178.6 L479.6 177.6 L479.6 176.7 L479.6 175.7 L479.7 174.8 L479.7 173.9 L479.7 172.9 L479.8 171.8 L479.8 170.7 L479.8 169.7 L479.9 168.6 L479.9 167.6 L479.9 166.6 L480.0 165.6 L480.0 164.6 L480.1 163.6 L480.1 162.6 L480.1 161.6 L480.2 160.7 L480.2 159.7 L480.3 158.5 L480.4 157.4 L480.4 156.3 L480.5 155.2 L480.6 154.2 L480.6 153.2 L480.7 152.3 L480.8 151.4 L480.9 150.3 L480.9 149.3 L481.0 148.3 L481.1 147.4 L481.2 146.3 L481.3 145.0 L481.3 144.1 L481.4 142.9 L481.5 141.8 L481.6 140.9 L481.7 140.0 L482.3 140.9 L482.4 141.9 L482.5 143.0 L482.6 144.0 L482.7 145.1 L482.8 146.3 L482.9 147.6 L482.9 148.5 L483.0 149.5 L483.1 150.5 L483.2 151.5 L483.2 152.6 L483.3 153.5 L483.4 154.4 L483.4 155.4 L483.5 156.4 L483.6 157.4 L483.6 158.4 L483.7 159.5 L483.8 160.6 L483.8 161.7 L483.9 162.8 L484.0 163.9 L484.1 165.0 L484.1 166.2 L484.2 167.4 L484.3 168.5 L484.4 169.7 L484.4 170.7 L484.5 171.7 L484.6 172.9 L484.7 174.0 L484.7 174.9 L484.8 175.8 L484.9 176.7 L485.0 177.6 L485.0 178.6 L485.1 179.5 L485.2 180.5 L485.2 181.4 L485.3 182.4 L485.4 183.4 L485.5 184.4 L485.5 185.4 L485.6 186.4 L485.7 187.4 L485.7 188.4 L485.8 189.5 L485.9 190.5 L486.0 191.6 L486.0 192.7 L486.1 193.8 L486.2 194.9 L486.3 196.0 L486.3 197.1 L486.4 198.3 L486.5 199.4 L486.5 200.4 L486.6 201.6 L486.6 202.5 L486.7 203.4 L486.7 204.4 L486.8 205.4 L486.8 206.3 L486.9 207.3 L487.0 208.4 L487.0 209.4 L487.1 210.4 L487.1 211.5 L487.2 212.5 L487.2 213.6 L487.3 214.7 L487.3 215.7 L487.4 216.8 L487.4 217.9 L487.5 219.0 L487.5 220.0 L487.6 221.1 L487.6 222.2 L487.7 223.3 L487.7 224.3 L487.8 225.4 L487.8 226.4 L487.9 227.5 L487.9 228.5 L488.0 229.6 L488.0 230.6 L488.1 231.6 L488.1 232.6 L488.2 233.5 L488.2 234.5 L488.3 235.4 L488.3 236.3 L488.4 237.5 L488.4 238.5 L488.5 239.6 L488.5 240.6 L488.6 241.6 L488.6 242.5 L488.7 243.5 L488.7 244.4 L488.8 245.5 L488.9 246.7 L488.9 247.8 L489.0 248.9 L489.0 250.0 L489.1 251.0 L489.2 252.1 L489.2 253.1 L489.3 254.1 L489.3 255.0 L489.4 256.0 L489.5 256.9 L489.5 257.8 L489.6 258.9 L489.7 260.0 L489.7 261.1 L489.8 262.1 L489.9 263.2 L489.9 264.2 L490.0 265.3 L490.1 266.3 L490.2 267.2 L490.3 268.4 L490.4 269.5 L490.5 270.6 L490.6 271.7 L490.7 272.7 L490.8 273.6 L490.9 274.5 L491.0 275.4 L491.1 276.5 L491.2 277.6 L491.4 278.7 L491.5 279.8 L491.6 280.9 L491.7 282.0 L491.9 283.1 L492.0 284.2 L492.1 285.3 L492.3 286.3 L492.4 287.3 L492.5 288.2 L492.7 289.1 L492.8 290.2 L493.1 291.3 L493.3 292.2 L493.5 293.3 L493.8 294.3 L494.1 295.2 L494.4 296.1 L494.8 297.1 L495.2 298.0 L495.7 299.0 L496.2 299.9 L496.8 300.8 L497.3 301.6 L497.8 302.5 L498.2 303.5 L498.6 304.4 L499.2 305.2 L500.0 305.7 L500.6 305.4 L501.3 305.8 L502.1 306.0 L502.9 306.5 L503.7 306.6 L504.5 306.4 L505.2 306.6 L505.9 306.5 L506.5 306.4 L507.3 307.5 L508.0 307.9 L508.9 307.3 L509.5 307.3 L510.3 307.1 L511.1 307.3 L511.7 307.3 L512.4 307.0 L513.2 306.7 L514.0 306.8 L514.8 306.2 L515.6 306.3 L516.4 306.2 L517.3 306.3 L518.1 306.5 L518.9 306.4 L519.8 305.8 L520.5 306.2 L521.3 306.4 L522.0 306.0 L522.6 305.8 L523.4 305.7 L524.2 305.4 L525.0 305.0 L525.7 304.8 L526.3 304.6 L526.9 304.2 L527.6 304.4 L528.2 303.8 L528.8 303.3 L529.4 302.3 L530.1 302.1 L530.8 302.2 L531.4 301.4 L532.1 301.4 L532.8 301.2 L533.5 300.5 L534.2 299.8 L534.8 299.9 L535.5 299.2 L536.2 298.9 L536.9 299.0 L537.5 298.7 L538.3 298.4 L539.0 298.2 L539.8 298.3 L540.5 298.4 L541.3 298.2 L542.1 297.7 L542.8 297.5 L543.6 298.6 L544.3 298.9 L545.1 298.0 L545.8 297.9 L546.5 298.3 L547.2 297.6 L547.8 297.5 L548.5 296.9 L549.1 296.8 L549.8 296.2 L550.5 295.3 L551.2 295.4 L551.9 295.2 L552.6 295.2 L553.3 294.3 L554.0 294.4 L554.7 294.0 L555.4 293.3 L556.2 293.3 L556.9 293.2 L557.7 292.7 L558.4 292.8 L559.2 292.1 L559.9 291.5 L560.6 291.7 L561.4 291.2 L562.1 291.3 L562.8 291.2 L563.6 291.0 L564.4 291.0 L565.2 290.6 L566.0 290.6 L566.8 290.2 L567.5 290.3 L568.2 290.4 L568.9 290.3 L569.6 290.6 L570.2 290.6 L570.8 291.2 L571.5 291.9 L572.2 292.5 L572.8 293.2 L573.4 294.3 L574.1 295.3 L574.8 296.2 L575.6 296.3 L576.4 297.3 L577.0 297.9 L577.6 298.1 L578.2 299.0 L578.9 298.9 L579.6 299.6 L580.4 299.7 L581.1 300.2 L581.8 299.6 L582.4 300.2 L583.1 300.7 L583.8 301.2 L584.6 300.7 L585.3 300.9 L586.1 300.7 L586.9 300.7 L587.7 300.7 L588.5 301.0 L589.4 301.2 L590.2 301.3 L590.9 301.8 L591.6 301.6 L592.4 301.5 L593.2 301.9 L594.0 301.9 L594.8 301.9 L595.6 301.9 L596.4 302.1 L597.2 302.3 L598.1 302.6 L598.9 302.8 L599.6 302.2 L600.4 302.5 L601.1 302.5 L601.8 302.5 L602.4 302.9 L603.0 302.4 L603.9 303.0 L604.7 303.0 L605.4 302.5 L606.1 303.2 L606.8 303.0 L607.4 303.1 L608.1 303.4 L608.9 303.1 L609.7 302.8 L610.4 302.6 L611.1 302.4 L611.7 302.8 L612.3 302.4 L613.0 302.5 L613.7 301.5 L614.3 301.7 L615.1 301.3 L615.8 301.2 L616.6 300.9 L617.3 300.7 L618.2 300.6 L619.0 300.1 L619.7 300.5 L620.3 300.2 L621.0 299.7 L621.7 299.9 L622.3 300.0 L623.0 299.8 L623.8 299.7 L624.5 299.9 L625.3 299.6 L626.1 298.9 L626.9 299.0 L627.7 298.8 L628.5 298.6 L629.3 298.5 L630.1 298.6 L630.9 298.2 L631.8 298.0 L632.6 297.8 L633.3 297.2 L634.1 298.1 L634.9 297.8 L635.6 297.5 L636.3 297.5 L637.0 297.3 L637.6 297.1 L638.4 297.5 L639.3 297.4 L640.1 297.3 L640.9 297.6 L641.6 298.1 L642.3 297.8 L642.9 298.2 L643.6 298.3 L644.2 298.6 L644.9 299.3 L645.6 299.2 L646.3 299.3 L647.0 299.3 L647.8 299.4 L648.7 299.5 L649.4 299.5 L650.0 300.1 L650.7 299.8 L651.4 299.5 L652.2 299.4 L652.9 299.6 L653.7 299.5 L654.5 299.5 L655.3 299.6 L656.0 300.2 L656.8 300.2 L657.6 299.5 L658.4 299.0 L659.2 298.4 L660.0 299.1 L660.8 299.0 L661.6 298.1 L662.3 299.0 L663.1 298.7 L663.8 298.4 L664.6 298.4 L665.3 298.0 L666.1 298.4 L666.9 297.8 L667.6 298.5 L668.4 298.0 L669.1 298.2 L669.8 298.3 L670.6 298.5 L671.3 297.7 L672.0 297.9 L672.8 297.7 L673.5 297.8 L674.2 297.6 L675.0 297.9 L675.7 297.6 L676.5 298.1 L677.3 298.0 L678.0 297.6 L678.8 297.7 L679.5 297.8 L680.1 298.1 L680.8 297.7 L681.5 298.2 L682.1 298.6 L682.8 298.7 L683.5 298.3 L684.1 298.5 L684.8 299.4 L685.5 299.3 L686.2 298.8 L686.9 298.5 L687.7 298.6 L688.5 299.3 L689.2 299.7 L690.1 299.7 L690.9 299.2 L691.8 299.4 L692.4 299.7 L693.0 299.3 L693.7 299.3 L694.4 299.2 L695.1 299.5 L695.7 299.6 L696.4 299.9 L697.2 299.8 L698.0 300.1 L698.7 299.5 L699.6 300.1 L700.4 299.9 L701.2 300.5 L702.1 300.3 L703.0 300.7 L703.8 300.3 L704.7 299.7 L705.6 300.1 L706.5 300.1 L707.4 300.4 L708.3 300.2 L709.1 300.3 L710.0 300.3 L710.9 300.7 L711.7 300.8 L712.5 300.7 L713.3 300.1 L714.1 300.6 L714.8 300.2 L715.6 300.2 L716.3 300.6 L716.9 300.1 L717.5 300.2 L718.3 300.3 L719.0 300.8 L719.6 300.5" fill="none" stroke="#2f8c42" stroke-width="1.35" stroke-linejoin="round" clip-path="url(#cb)"/>
<path d="M440.0 309.5 L441.0 309.5 L442.0 309.5 L443.0 309.6 L444.1 309.6 L445.0 309.6 L446.0 309.6 L447.0 309.7 L448.1 309.7 L449.2 309.7 L450.4 309.8 L451.5 309.8 L452.7 309.8 L453.6 309.9 L454.6 309.9 L455.5 309.9 L456.4 309.9 L457.3 310.0 L458.3 310.0 L459.2 310.0 L460.1 310.0 L461.1 310.0 L462.0 310.0 L462.9 310.0 L464.1 310.1 L465.3 310.1 L466.4 310.1 L467.5 310.0 L468.6 310.0 L469.6 310.0 L470.6 310.0 L471.5 309.9 L472.6 309.8 L473.6 309.8 L474.6 309.6 L476.1 309.4 L477.0 309.1 L478.0 308.7 L478.6 307.8 L478.3 306.8 L477.8 305.7 L477.4 304.8 L477.1 303.7 L477.0 302.4 L477.1 301.5 L477.1 300.6 L477.2 299.6 L477.3 298.6 L477.4 297.5 L477.5 296.4 L477.5 295.5 L477.6 294.5 L477.6 293.5 L477.7 292.5 L477.8 291.5 L477.8 290.4 L477.9 289.3 L477.9 288.1 L478.0 287.0 L478.0 285.8 L478.1 284.9 L478.1 283.9 L478.2 283.0 L478.2 282.0 L478.2 281.0 L478.3 279.9 L478.3 278.8 L478.4 277.7 L478.4 276.8 L478.4 275.9 L478.4 274.9 L478.5 274.0 L478.5 273.0 L478.5 272.0 L478.6 271.0 L478.6 270.0 L478.6 269.0 L478.6 268.0 L478.7 266.9 L478.7 265.9 L478.7 264.9 L478.7 263.8 L478.8 262.7 L478.8 261.7 L478.8 260.6 L478.9 259.6 L478.9 258.5 L478.9 257.4 L478.9 256.4 L479.0 255.3 L479.0 254.2 L479.0 253.2 L479.0 252.1 L479.1 251.0 L479.1 250.0 L479.1 249.0 L479.2 248.1 L479.2 247.1 L479.2 246.1 L479.2 245.2 L479.3 244.2 L479.3 243.2 L479.3 242.2 L479.3 241.2 L479.3 240.2 L479.4 239.2 L479.4 238.2 L479.4 237.2 L479.4 236.2 L479.5 235.2 L479.5 234.2 L479.5 233.2 L479.5 232.2 L479.6 231.2 L479.6 230.2 L479.6 229.1 L479.6 228.1 L479.7 227.1 L479.7 226.1 L479.7 225.1 L479.7 224.1 L479.8 223.1 L479.8 222.0 L479.8 221.0 L479.9 220.0 L479.9 219.0 L479.9 218.0 L479.9 217.0 L480.0 216.0 L480.0 215.0 L480.0 214.0 L480.1 213.0 L480.1 211.9 L480.1 210.9 L480.2 209.9 L480.2 208.8 L480.2 207.8 L480.3 206.7 L480.3 205.6 L480.3 204.6 L480.4 203.5 L480.4 202.4 L480.4 201.3 L480.5 200.3 L480.5 199.2 L480.5 198.1 L480.6 197.1 L480.6 196.0 L480.6 195.0 L480.7 194.0 L480.7 192.9 L480.7 191.9 L480.8 190.9 L480.8 189.9 L480.9 188.9 L480.9 187.9 L480.9 187.0 L481.0 186.0 L481.0 185.1 L481.0 184.2 L481.1 183.1 L481.1 182.0 L481.2 181.0 L481.2 180.0 L481.2 179.0 L481.3 178.0 L481.3 177.0 L481.4 176.1 L481.4 175.2 L481.5 174.0 L481.5 172.9 L481.6 171.8 L481.6 170.7 L481.7 169.7 L481.8 168.7 L481.8 167.7 L481.9 166.8 L481.9 165.9 L482.0 164.8 L482.1 163.7 L482.1 162.7 L482.2 161.7 L482.2 160.7 L482.3 159.6 L482.4 158.4 L482.5 157.3 L482.6 156.2 L482.6 155.2 L482.7 154.2 L482.8 153.3 L482.9 152.2 L483.0 151.2 L483.2 150.3 L483.4 151.2 L483.6 152.2 L483.6 153.3 L483.7 154.2 L483.8 155.2 L483.9 156.2 L483.9 157.3 L484.0 158.4 L484.1 159.6 L484.1 160.6 L484.2 161.5 L484.3 162.6 L484.3 163.6 L484.4 164.7 L484.4 165.6 L484.5 166.5 L484.5 167.5 L484.6 168.5 L484.6 169.5 L484.6 170.5 L484.7 171.6 L484.7 172.7 L484.8 173.8 L484.9 174.9 L484.9 176.1 L485.0 177.2 L485.0 178.2 L485.1 179.1 L485.1 180.0 L485.2 181.1 L485.2 182.1 L485.3 183.3 L485.3 184.2 L485.4 185.1 L485.4 186.1 L485.4 187.0 L485.5 188.0 L485.5 189.0 L485.6 190.0 L485.6 191.0 L485.7 192.0 L485.7 193.1 L485.8 194.1 L485.9 195.2 L485.9 196.2 L486.0 197.3 L486.0 198.3 L486.1 199.4 L486.1 200.4 L486.2 201.5 L486.2 202.5 L486.3 203.6 L486.3 204.6 L486.4 205.7 L486.4 206.7 L486.5 207.7 L486.5 208.7 L486.6 209.7 L486.6 210.8 L486.7 211.8 L486.7 212.8 L486.8 213.8 L486.8 214.8 L486.9 215.8 L487.0 216.8 L487.0 217.9 L487.1 218.9 L487.1 219.9 L487.2 221.0 L487.2 222.0 L487.3 223.0 L487.3 224.0 L487.4 225.1 L487.4 226.1 L487.5 227.1 L487.6 228.1 L487.6 229.1 L487.7 230.1 L487.7 231.1 L487.8 232.1 L487.8 233.1 L487.9 234.1 L487.9 235.0 L488.0 236.0 L488.0 237.0 L488.1 237.9 L488.1 238.8 L488.2 239.8 L488.2 240.8 L488.3 241.9 L488.4 243.0 L488.4 244.1 L488.5 245.2 L488.5 246.3 L488.6 247.4 L488.6 248.5 L488.7 249.5 L488.8 250.6 L488.8 251.6 L488.9 252.7 L488.9 253.7 L489.0 254.7 L489.0 255.7 L489.1 256.7 L489.1 257.7 L489.2 258.6 L489.3 259.6 L489.3 260.5 L489.4 261.4 L489.4 262.5 L489.5 263.6 L489.6 264.6 L489.6 265.7 L489.7 266.6 L489.8 267.5 L489.9 268.7 L490.0 269.8 L490.0 270.9 L490.1 271.9 L490.2 272.8 L490.3 273.8 L490.4 274.7 L490.5 275.6 L490.6 276.7 L490.7 277.8 L490.9 278.9 L491.0 280.0 L491.1 281.1 L491.3 282.2 L491.4 283.3 L491.6 284.4 L491.7 285.4 L491.9 286.4 L492.1 287.4 L492.2 288.4 L492.4 289.3 L492.6 290.2 L492.8 291.1 L493.1 292.3 L493.4 293.4 L493.7 294.5 L494.0 295.5 L494.3 296.5 L494.6 297.4 L495.0 298.3 L495.3 299.1 L495.8 300.1 L496.3 301.0 L496.9 302.0 L497.5 302.9 L498.2 303.7 L498.8 304.4 L499.5 305.0 L500.6 306.1 L501.3 306.9 L501.9 307.5 L502.7 307.7 L503.4 308.0 L504.2 308.3 L504.9 308.1 L505.5 308.7 L506.2 308.2 L506.9 308.4 L507.6 308.1 L508.4 308.3 L509.2 308.5 L510.0 308.3 L510.8 308.3 L511.7 308.6 L512.5 308.4 L513.4 308.3 L514.2 308.6 L515.0 308.4 L515.8 308.6 L516.6 308.3 L517.3 308.5 L518.0 308.2 L518.8 308.6 L519.6 308.0 L520.4 308.1 L521.2 308.1 L521.9 308.1 L522.6 307.5 L523.3 307.6 L524.0 307.2 L524.7 307.0 L525.4 307.2 L526.2 306.5 L526.9 306.8 L527.7 306.4 L528.4 305.8 L529.2 305.6 L529.9 305.8 L530.6 305.5 L531.4 305.6 L532.1 305.4 L532.9 305.5 L533.7 305.4 L534.4 304.9 L535.2 305.3 L536.0 304.2 L536.7 304.3 L537.5 304.2 L538.2 303.9 L539.0 303.9 L539.7 303.8 L540.3 303.4 L541.0 302.8 L541.8 302.6 L542.5 302.4 L543.2 302.2 L543.9 301.8 L544.6 301.4 L545.3 300.7 L546.0 300.4 L546.6 300.1 L547.3 299.5 L547.9 298.8 L548.5 298.7 L549.3 298.3 L550.0 297.7 L550.7 297.3 L551.3 297.1 L551.9 296.3 L552.7 295.5 L553.4 294.6 L554.1 294.0 L554.8 293.5 L555.6 292.9 L556.3 292.3 L557.0 291.9 L557.7 291.4 L558.4 290.5 L559.2 290.6 L559.9 290.1 L560.6 289.7 L561.3 289.3 L562.0 289.6 L562.7 290.0 L563.4 289.7 L564.1 290.1 L564.8 290.1 L565.5 290.5 L566.3 290.8 L567.0 291.0 L567.7 291.6 L568.4 292.1 L569.0 292.4 L569.8 292.9 L570.5 293.4 L571.3 294.4 L572.1 295.6 L572.7 295.4 L573.4 296.0 L574.1 295.9 L574.8 296.6 L575.5 296.8 L576.1 297.0 L576.9 297.3 L577.6 297.3 L578.3 297.2 L579.1 297.7 L579.9 298.0 L580.7 297.8 L581.5 297.7 L582.3 297.5 L583.2 297.7 L584.0 297.9 L584.7 298.2 L585.4 297.7 L586.1 298.2 L586.9 298.6 L587.6 298.3 L588.4 298.5 L589.2 298.2 L589.9 298.4 L590.7 298.7 L591.4 299.3 L592.2 299.6 L593.0 299.5 L593.7 300.1 L594.5 299.9 L595.2 300.0 L596.0 300.5 L596.7 300.5 L597.5 300.9 L598.2 300.9 L599.0 301.2 L599.8 301.7 L600.5 301.9 L601.3 301.4 L602.0 301.9 L602.7 302.3 L603.4 301.8 L604.1 302.6 L604.8 302.5 L605.5 302.2 L606.3 302.2 L607.1 302.3 L607.9 301.8 L608.6 301.5 L609.3 301.7 L610.0 301.4 L610.7 301.0 L611.4 300.8 L612.1 299.9 L612.8 299.6 L613.5 299.7 L614.2 300.0 L614.9 299.4 L615.7 299.1 L616.4 299.1 L617.1 299.0 L617.8 299.0 L618.5 298.8 L619.3 298.6 L620.1 298.7 L620.8 298.7 L621.5 298.4 L622.2 298.9 L622.9 298.9 L623.6 298.9 L624.3 298.9 L625.0 298.9 L625.8 298.9 L626.5 299.4 L627.4 299.3 L628.2 299.2 L629.1 299.5 L629.7 299.4 L630.4 299.8 L631.0 299.4 L631.7 299.5 L632.3 299.4 L633.0 299.7 L633.6 300.3 L634.3 299.7 L635.0 299.6 L635.7 300.0 L636.4 299.6 L637.1 300.0 L637.9 300.2 L638.6 300.2 L639.5 300.2 L640.3 300.2 L641.2 300.0 L641.8 300.1 L642.4 300.0 L643.0 300.1 L643.7 300.2 L644.4 300.3 L645.0 300.1 L645.7 300.7 L646.4 300.5 L647.1 301.1 L647.8 300.8 L648.6 301.1 L649.3 300.8 L650.1 301.0 L650.9 300.7 L651.7 300.8 L652.5 301.1 L653.3 301.0 L654.1 301.4 L654.9 301.5 L655.7 301.6 L656.6 301.5 L657.4 301.1 L658.2 301.5 L659.0 301.6 L659.8 301.5 L660.6 302.3 L661.4 301.9 L662.2 301.5 L663.0 302.0 L663.7 302.3 L664.5 302.0 L665.2 302.0 L665.9 302.0 L666.5 301.2 L667.2 302.1 L668.0 301.5 L668.6 301.6 L669.5 301.8 L670.3 301.6 L671.1 302.0 L671.9 301.9 L672.7 301.7 L673.4 301.5 L674.1 302.1 L674.8 301.5 L675.5 301.2 L676.2 301.6 L676.9 301.0 L677.6 300.9 L678.2 301.4 L678.9 301.3 L679.7 301.2 L680.4 300.5 L681.1 300.7 L681.9 300.4 L682.7 300.5 L683.5 300.6 L684.2 300.3 L684.9 300.3 L685.6 300.3 L686.3 300.5 L687.0 300.2 L687.8 299.8 L688.5 299.8 L689.3 300.2 L690.0 300.0 L690.8 299.5 L691.5 299.8 L692.3 299.9 L693.1 299.5 L693.8 299.3 L694.6 299.3 L695.4 299.3 L696.1 299.2 L696.9 298.7 L697.7 299.4 L698.4 299.3 L699.2 299.0 L700.0 299.2 L700.7 298.4 L701.5 298.6 L702.2 298.5 L703.0 298.8 L703.8 299.0 L704.7 299.3 L705.5 299.1 L706.4 299.1 L707.2 298.8 L708.1 298.8 L709.0 298.7 L709.9 299.0 L710.7 299.4 L711.6 299.2 L712.4 299.3 L713.3 299.6 L714.1 299.4 L714.8 299.1 L715.6 298.8 L716.3 299.0 L717.0 299.6 L717.6 299.6 L718.4 299.8 L719.1 299.6 L719.7 300.0" fill="none" stroke="#ea2a2a" stroke-width="1.35" stroke-linejoin="round" clip-path="url(#cb)"/>
<g stroke="#555" stroke-width="0.95" stroke-dasharray="1.15 3.01"><line x1="467.57" y1="309.50" x2="467.57" y2="5.90"/><line x1="509.64" y1="309.50" x2="509.64" y2="5.90"/><line x1="551.71" y1="309.50" x2="551.71" y2="5.90"/><line x1="593.79" y1="309.50" x2="593.79" y2="5.90"/><line x1="635.86" y1="309.50" x2="635.86" y2="5.90"/><line x1="677.93" y1="309.50" x2="677.93" y2="5.90"/></g><g stroke="#555" stroke-width="0.95" stroke-dasharray="1.15 3.06"><line x1="425.50" y1="258.90" x2="720.00" y2="258.90"/><line x1="425.50" y1="208.30" x2="720.00" y2="208.30"/><line x1="425.50" y1="157.70" x2="720.00" y2="157.70"/><line x1="425.50" y1="107.10" x2="720.00" y2="107.10"/><line x1="425.50" y1="56.50" x2="720.00" y2="56.50"/></g>
<path d="M476.0 309.5 L476.7 308.9 L477.6 307.5 L477.9 306.8 L478.1 306.0 L478.4 305.1 L478.7 304.1 L479.0 303.0 L479.2 302.0 L479.5 301.0 L479.7 300.1 L479.9 299.2 L480.1 298.2 L480.3 297.3 L480.5 296.3 L480.7 295.2 L481.0 294.0 L481.2 293.2 L481.4 292.4 L481.5 291.5 L481.7 290.6 L482.0 289.7 L482.2 288.7 L482.4 287.7 L482.6 286.7 L482.8 285.8 L483.0 284.8 L483.3 283.9 L483.5 283.0 L483.7 282.0 L484.0 281.0 L484.2 280.1 L484.5 279.1 L484.8 278.1 L485.0 277.1 L485.3 276.2 L485.5 275.3 L485.8 274.4 L486.1 273.6 L486.4 272.9 L486.9 271.9 L487.3 270.9 L487.8 270.1 L488.3 269.4 L488.8 268.7 L489.4 268.1 L490.0 267.6 L490.8 267.1 L491.6 266.7 L492.5 266.4 L493.4 266.2 L494.3 266.0 L495.2 265.8 L496.1 265.6 L496.9 265.4 L497.7 265.3 L498.7 265.1 L500.0 264.9 L500.7 264.8 L501.4 264.6 L502.2 264.5 L503.0 264.4 L503.8 264.2 L504.7 264.1 L505.6 263.9 L506.6 263.7 L507.7 263.6 L508.8 263.4 L510.0 263.2 L510.7 263.1 L511.5 263.0 L512.2 262.9 L513.0 262.7 L513.8 262.6 L514.6 262.5 L515.4 262.4 L516.3 262.2 L517.2 262.1 L518.1 262.0 L519.0 261.9 L519.9 261.7 L520.9 261.6 L521.8 261.5 L522.8 261.4 L523.8 261.2 L524.9 261.1 L525.9 261.0 L527.0 260.9 L527.8 260.8 L528.7 260.8 L529.6 260.7 L530.5 260.6 L531.4 260.6 L532.4 260.5 L533.4 260.4 L534.4 260.4 L535.4 260.3 L536.5 260.3 L537.5 260.2 L538.6 260.2 L539.6 260.1 L540.6 260.1 L541.7 260.0 L542.7 259.9 L543.7 259.9 L544.7 259.8 L545.6 259.7 L546.5 259.7 L547.4 259.6 L548.3 259.5 L549.1 259.5 L549.8 259.4 L550.5 259.3 L551.2 259.2 L552.7 259.0 L553.9 258.7 L554.9 258.5 L555.8 258.2 L556.5 257.9 L557.1 257.6 L557.8 257.2 L558.4 256.9 L559.1 256.5 L560.0 256.0 L560.7 255.6 L561.5 255.2 L562.3 254.7 L563.1 254.2 L563.8 253.7 L564.6 253.2 L565.4 252.7 L566.2 252.2 L567.0 251.6 L567.8 251.1 L568.6 250.5 L569.3 250.0 L570.0 249.5 L570.8 248.9 L571.6 248.3 L572.3 247.8 L573.0 247.2 L573.8 246.7 L574.5 246.1 L575.2 245.5 L575.9 244.9 L576.6 244.3 L577.3 243.7 L578.0 243.0 L578.6 242.4 L579.3 241.8 L579.9 241.2 L580.5 240.6 L581.2 239.9 L581.8 239.3 L582.5 238.6 L583.1 237.9 L583.7 237.3 L584.4 236.6 L585.0 235.9 L585.7 235.2 L586.3 234.5 L586.9 233.8 L587.6 233.0 L588.3 232.3 L589.0 231.5 L589.6 230.7 L590.3 229.9 L591.0 229.1 L591.6 228.4 L592.3 227.6 L592.9 226.9 L593.4 226.2 L594.0 225.6 L594.5 225.0 L595.3 224.0 L596.0 223.2 L596.6 222.5 L597.2 221.8 L597.7 221.2 L598.3 220.6 L599.0 220.0 L599.7 219.4 L600.5 218.7 L601.3 218.1 L602.1 217.6 L603.0 217.0 L603.9 216.4 L604.8 215.9 L605.6 215.4 L606.5 215.0 L607.4 214.5 L608.3 214.1 L609.2 213.7 L610.1 213.3 L611.1 212.9 L612.0 212.5 L612.9 212.2 L613.9 211.9 L614.9 211.6 L615.9 211.3 L616.9 211.0 L617.8 210.8 L618.7 210.5 L619.5 210.2 L620.6 209.7 L621.5 209.2 L622.3 208.7 L623.1 208.1 L624.0 207.5 L624.7 207.0 L625.4 206.4 L626.2 205.9 L626.9 205.2 L627.7 204.4 L628.6 203.4 L629.1 202.8 L629.6 202.2 L630.1 201.5 L630.7 200.8 L631.2 200.0 L631.8 199.2 L632.4 198.4 L633.0 197.6 L633.6 196.8 L634.2 195.9 L634.8 195.1 L635.5 194.3 L636.0 193.7 L636.6 193.0 L637.2 192.3 L637.8 191.7 L638.4 191.0 L639.0 190.3 L639.7 189.6 L640.3 188.9 L641.0 188.2 L641.6 187.6 L642.2 186.8 L642.8 186.1 L643.4 185.4 L644.0 184.7 L644.5 184.0 L645.1 183.2 L645.6 182.4 L646.1 181.6 L646.6 180.8 L647.1 180.0 L647.6 179.2 L648.1 178.4 L648.6 177.6 L649.0 176.7 L649.5 175.9 L650.0 175.1 L650.4 174.3 L650.9 173.5 L651.4 172.7 L651.9 171.9 L652.4 171.1 L652.9 170.4 L653.4 169.6 L653.8 168.8 L654.3 168.1 L654.8 167.3 L655.3 166.6 L655.8 165.8 L656.3 165.1 L656.7 164.3 L657.2 163.5 L657.7 162.8 L658.2 162.0 L658.7 161.2 L659.2 160.4 L659.7 159.7 L660.2 158.9 L660.7 158.1 L661.2 157.3 L661.7 156.6 L662.2 155.8 L662.7 155.0 L663.2 154.2 L663.6 153.4 L664.1 152.6 L664.6 151.8 L665.0 151.0 L665.4 150.2 L665.8 149.5 L666.1 148.7 L666.5 148.0 L666.8 147.3 L667.1 146.6 L667.4 145.9 L667.7 145.1 L668.0 144.3 L668.4 143.5 L668.8 142.6 L669.2 141.6 L669.7 140.6 L670.2 139.5 L670.5 138.8 L670.9 138.1 L671.2 137.4 L671.6 136.7 L671.9 135.9 L672.3 135.1 L672.7 134.3 L673.1 133.5 L673.5 132.7 L674.0 131.8 L674.4 131.0 L674.8 130.1 L675.3 129.2 L675.7 128.3 L676.1 127.4 L676.6 126.5 L677.0 125.6 L677.5 124.7 L677.9 123.8 L678.4 122.9 L678.8 122.0 L679.2 121.1 L679.7 120.2 L680.1 119.4 L680.5 118.5 L680.9 117.7 L681.3 116.8 L681.7 116.0 L682.1 115.2 L682.5 114.3 L682.9 113.5 L683.3 112.6 L683.6 111.8 L684.0 110.9 L684.4 110.1 L684.8 109.2 L685.2 108.3 L685.6 107.5 L686.0 106.6 L686.4 105.8 L686.8 104.9 L687.2 104.1 L687.6 103.2 L687.9 102.4 L688.3 101.5 L688.7 100.7 L689.1 99.8 L689.5 99.0 L689.9 98.2 L690.3 97.3 L690.7 96.5 L691.1 95.6 L691.5 94.8 L691.9 93.9 L692.3 93.1 L692.8 92.3 L693.2 91.4 L693.6 90.6 L694.0 89.7 L694.4 88.9 L694.8 88.1 L695.2 87.3 L695.6 86.4 L696.1 85.6 L696.5 84.8 L696.9 84.0 L697.3 83.1 L697.7 82.3 L698.1 81.5 L698.5 80.7 L698.9 79.9 L699.4 79.0 L699.8 78.2 L700.2 77.4 L700.6 76.6 L701.0 75.8 L701.4 75.0 L701.9 74.1 L702.3 73.2 L702.7 72.4 L703.2 71.5 L703.6 70.6 L704.0 69.7 L704.5 68.9 L704.9 68.0 L705.3 67.1 L705.8 66.3 L706.2 65.4 L706.6 64.5 L707.1 63.7 L707.5 62.9 L707.9 62.0 L708.4 61.2 L708.8 60.4 L709.2 59.6 L709.6 58.9 L710.0 58.1 L710.4 57.4 L710.8 56.7 L711.2 56.0 L711.8 55.0 L712.4 54.1 L712.9 53.2 L713.5 52.3 L714.1 51.5 L714.6 50.7 L715.2 49.9 L715.7 49.1 L716.2 48.4 L716.7 47.6 L717.3 46.9 L717.8 46.2 L718.3 45.5 L718.8 44.8 L719.2 44.1 L719.7 43.4 L720.3 42.5 L720.9 41.6 L721.4 40.6 L722.0 39.7 L722.6 38.8 L723.1 37.9 L723.6 37.0 L724.1 36.1 L724.6 35.4 L725.0 34.6 L725.4 34.0 L725.7 33.5 L726.0 33.0" fill="none" stroke="#2352ad" stroke-width="1.35" stroke-dasharray="6.2 6.4" stroke-dashoffset="0.69" clip-path="url(#cb)"/>
<path d="M476.8 309.5 L476.9 309.0 L477.1 308.4 L477.3 307.7 L477.5 307.0 L477.8 306.1 L478.0 305.2 L478.3 304.1 L478.6 302.9 L478.8 301.5 L479.0 300.0 L479.1 299.3 L479.2 298.6 L479.2 297.9 L479.3 297.1 L479.4 296.2 L479.5 295.4 L479.6 294.5 L479.6 293.6 L479.7 292.7 L479.8 291.7 L479.9 290.8 L479.9 289.8 L480.0 288.8 L480.1 287.8 L480.2 286.8 L480.2 285.8 L480.3 284.8 L480.4 283.8 L480.5 282.8 L480.5 281.8 L480.6 280.9 L480.7 279.9 L480.7 278.9 L480.8 278.0 L480.9 277.1 L480.9 276.1 L481.0 275.2 L481.1 274.2 L481.1 273.2 L481.2 272.3 L481.3 271.3 L481.3 270.3 L481.4 269.3 L481.5 268.4 L481.5 267.4 L481.6 266.4 L481.6 265.5 L481.7 264.5 L481.8 263.5 L481.8 262.6 L481.9 261.7 L482.0 260.8 L482.0 259.8 L482.1 259.0 L482.1 258.1 L482.2 257.2 L482.2 256.4 L482.3 255.6 L482.4 254.5 L482.5 253.5 L482.5 252.5 L482.6 251.5 L482.7 250.6 L482.7 249.7 L482.8 248.8 L482.9 247.9 L482.9 247.1 L483.0 246.2 L483.1 245.3 L483.1 244.5 L483.2 243.6 L483.3 242.7 L483.4 241.7 L483.4 240.7 L483.5 239.7 L483.6 238.9 L483.6 238.0 L483.7 237.1 L483.7 236.2 L483.8 235.2 L483.9 234.3 L483.9 233.3 L484.0 232.3 L484.0 231.3 L484.1 230.4 L484.2 229.4 L484.2 228.4 L484.3 227.4 L484.4 226.5 L484.4 225.5 L484.5 224.6 L484.6 223.7 L484.6 222.9 L484.7 222.0 L484.8 221.2 L484.8 220.5 L484.9 219.8 L485.0 218.5 L485.2 217.4 L485.3 216.4 L485.5 215.5 L485.6 214.6 L485.7 213.8 L485.9 213.1 L486.0 212.3 L486.2 211.6 L486.3 210.8 L486.5 210.0 L486.7 209.1 L486.9 208.1 L487.1 207.2 L487.3 206.3 L487.4 205.4 L487.7 204.5 L487.9 203.6 L488.1 202.7 L488.3 201.8 L488.5 201.0 L488.8 200.0 L489.0 199.0 L489.3 198.0 L489.6 197.1 L489.9 196.2 L490.2 195.3 L490.5 194.4 L490.9 193.5 L491.3 192.6 L491.7 191.7 L492.2 190.8 L492.7 189.9 L493.2 189.0 L493.7 188.2 L494.2 187.5 L494.7 186.8 L495.5 185.9 L496.2 185.2 L497.0 184.6 L497.8 184.1 L498.6 183.6 L499.4 183.1 L500.3 182.7 L501.1 182.3 L502.0 181.9 L502.9 181.6 L503.8 181.3 L504.8 181.0 L505.7 180.7 L506.7 180.5 L507.7 180.2 L508.7 179.9 L509.7 179.7 L510.7 179.4 L511.7 179.1 L512.7 178.8 L513.7 178.5 L514.6 178.1 L515.6 177.8 L516.5 177.4 L517.5 177.0 L518.3 176.7 L519.2 176.4 L520.0 176.0 L520.9 175.7 L521.7 175.3 L522.5 174.9 L523.4 174.4 L524.4 173.8 L525.3 173.3 L526.2 172.6 L527.0 172.0 L527.8 171.3 L528.6 170.7 L529.3 170.0 L530.0 169.2 L530.7 168.3 L531.2 167.6 L531.7 166.8 L532.1 166.0 L532.6 165.2 L533.1 164.3 L533.5 163.4 L534.0 162.5 L534.4 161.7 L534.8 160.8 L535.2 160.0 L535.6 159.1 L536.0 158.2 L536.4 157.2 L536.8 156.3 L537.2 155.3 L537.5 154.5 L537.9 153.6 L538.2 152.8 L538.5 151.9 L538.9 151.0 L539.2 150.1 L539.5 149.2 L539.8 148.3 L540.2 147.4 L540.5 146.5 L540.8 145.6 L541.1 144.7 L541.5 143.8 L541.8 142.9 L542.1 142.0 L542.4 141.0 L542.7 140.1 L543.1 139.2 L543.4 138.2 L543.7 137.3 L544.0 136.4 L544.3 135.6 L544.6 134.7 L544.9 133.8 L545.2 132.9 L545.5 132.0 L545.8 131.1 L546.1 130.2 L546.4 129.3 L546.7 128.4 L547.0 127.5 L547.3 126.6 L547.6 125.8 L547.9 125.0 L548.2 124.2 L548.4 123.4 L548.7 122.5 L549.0 121.7 L549.3 120.8 L549.6 119.8 L550.0 118.8 L550.3 117.7 L550.5 116.9 L550.7 116.2 L551.0 115.3 L551.2 114.5 L551.5 113.6 L551.7 112.7 L551.9 111.8 L552.2 110.9 L552.4 109.9 L552.7 109.0 L552.9 108.0 L553.2 107.1 L553.5 106.1 L553.7 105.1 L554.0 104.2 L554.2 103.2 L554.5 102.3 L554.8 101.4 L555.0 100.6 L555.3 99.8 L555.5 99.0 L555.8 98.2 L556.0 97.4 L556.3 96.6 L556.5 95.9 L556.8 95.0 L557.1 94.2 L557.3 93.4 L557.6 92.5 L557.9 91.5 L558.1 90.5 L558.4 89.5 L558.7 88.4 L559.0 87.2 L559.3 86.0 L559.5 85.3 L559.6 84.6 L559.8 83.8 L560.0 83.0 L560.1 82.2 L560.3 81.4 L560.5 80.5 L560.7 79.6 L560.9 78.7 L561.0 77.8 L561.2 76.9 L561.4 76.0 L561.6 75.1 L561.8 74.1 L562.0 73.2 L562.2 72.2 L562.3 71.2 L562.5 70.3 L562.7 69.3 L562.9 68.3 L563.1 67.3 L563.3 66.4 L563.5 65.4 L563.6 64.4 L563.8 63.5 L564.0 62.5 L564.2 61.6 L564.4 60.7 L564.5 59.8 L564.7 58.9 L564.9 58.0 L565.0 57.1 L565.2 56.3 L565.4 55.3 L565.6 54.4 L565.8 53.4 L565.9 52.5 L566.1 51.5 L566.3 50.6 L566.5 49.7 L566.7 48.7 L566.8 47.8 L567.0 46.9 L567.2 46.0 L567.3 45.1 L567.5 44.2 L567.7 43.4 L567.8 42.5 L568.0 41.6 L568.2 40.7 L568.3 39.8 L568.5 39.0 L568.7 38.1 L568.8 37.2 L569.0 36.3 L569.2 35.4 L569.3 34.6 L569.5 33.7 L569.7 32.8 L569.8 31.9 L570.0 31.0 L570.2 30.1 L570.3 29.2 L570.5 28.2 L570.7 27.3 L570.9 26.3 L571.1 25.3 L571.3 24.3 L571.4 23.3 L571.6 22.3 L571.8 21.3 L572.0 20.3 L572.2 19.3 L572.4 18.3 L572.6 17.4 L572.8 16.4 L572.9 15.4 L573.1 14.5 L573.3 13.6 L573.4 12.7 L573.6 11.8 L573.8 11.0 L573.9 10.2 L574.1 9.4 L574.2 8.6 L574.3 7.9 L574.5 7.2 L574.6 6.6 L574.7 6.0 L575.1 4.0 L575.4 2.5 L575.6 1.4 L575.7 0.6 L575.8 -0.0 L575.9 -0.5 L576.0 -1.0" fill="none" stroke="#2f8c42" stroke-width="1.35" stroke-dasharray="6.2 6.4" stroke-dashoffset="0.24" clip-path="url(#cb)"/>
<path d="M476.5 309.5 L476.7 309.0 L477.0 308.3 L477.3 307.5 L477.7 306.4 L478.0 305.0 L478.1 304.3 L478.2 303.6 L478.4 302.9 L478.5 302.1 L478.6 301.3 L478.7 300.4 L478.8 299.5 L478.9 298.5 L479.0 297.5 L479.2 296.4 L479.3 295.2 L479.4 294.0 L479.5 293.3 L479.5 292.5 L479.6 291.7 L479.7 290.9 L479.8 290.1 L479.8 289.2 L479.9 288.4 L480.0 287.5 L480.1 286.5 L480.1 285.6 L480.2 284.7 L480.3 283.7 L480.4 282.8 L480.4 281.8 L480.5 280.8 L480.6 279.9 L480.7 278.9 L480.8 277.9 L480.8 276.9 L480.9 276.0 L481.0 275.0 L481.1 274.1 L481.2 273.2 L481.2 272.3 L481.3 271.5 L481.4 270.6 L481.5 269.7 L481.6 268.8 L481.7 267.9 L481.8 267.0 L481.8 266.0 L481.9 265.1 L482.0 264.2 L482.1 263.3 L482.2 262.3 L482.3 261.4 L482.4 260.4 L482.5 259.5 L482.5 258.5 L482.6 257.5 L482.7 256.5 L482.8 255.5 L482.8 254.5 L482.9 253.5 L483.0 252.7 L483.0 251.8 L483.1 251.0 L483.1 250.1 L483.1 249.2 L483.2 248.3 L483.2 247.5 L483.3 246.6 L483.3 245.7 L483.3 244.8 L483.4 243.9 L483.4 243.0 L483.5 242.1 L483.5 241.2 L483.5 240.2 L483.6 239.3 L483.6 238.4 L483.6 237.5 L483.7 236.5 L483.7 235.6 L483.7 234.6 L483.8 233.7 L483.8 232.8 L483.8 231.8 L483.9 230.9 L483.9 229.9 L484.0 229.0 L484.0 228.0 L484.0 227.1 L484.1 226.3 L484.1 225.4 L484.2 224.5 L484.2 223.6 L484.2 222.8 L484.3 221.9 L484.3 221.0 L484.4 220.1 L484.4 219.2 L484.4 218.3 L484.5 217.4 L484.5 216.5 L484.6 215.6 L484.6 214.7 L484.6 213.8 L484.7 212.9 L484.7 212.0 L484.8 211.1 L484.8 210.2 L484.9 209.3 L484.9 208.4 L484.9 207.4 L485.0 206.5 L485.0 205.6 L485.1 204.7 L485.1 203.7 L485.2 202.8 L485.2 201.9 L485.3 200.9 L485.3 200.0 L485.3 199.1 L485.4 198.2 L485.4 197.3 L485.5 196.4 L485.5 195.5 L485.6 194.5 L485.6 193.6 L485.6 192.6 L485.7 191.7 L485.7 190.7 L485.8 189.8 L485.8 188.8 L485.9 187.9 L485.9 186.9 L486.0 185.9 L486.0 185.0 L486.0 184.0 L486.1 183.1 L486.1 182.1 L486.2 181.2 L486.2 180.3 L486.3 179.3 L486.3 178.4 L486.4 177.5 L486.4 176.6 L486.5 175.7 L486.5 174.9 L486.6 174.0 L486.6 173.2 L486.7 172.4 L486.7 171.6 L486.8 170.8 L486.8 170.0 L486.9 168.9 L486.9 167.8 L487.0 166.7 L487.1 165.6 L487.2 164.6 L487.3 163.5 L487.3 162.5 L487.4 161.5 L487.5 160.6 L487.6 159.6 L487.7 158.7 L487.7 157.8 L487.8 156.9 L487.9 156.1 L488.0 155.2 L488.0 154.4 L488.1 153.6 L488.2 152.9 L488.3 152.1 L488.4 151.4 L488.4 150.7 L488.5 150.0 L488.7 148.6 L488.8 147.4 L488.9 146.3 L489.1 145.3 L489.2 144.5 L489.4 143.6 L489.5 142.9 L489.7 142.1 L489.8 141.4 L490.0 140.6 L490.3 139.5 L490.6 138.5 L490.9 137.6 L491.2 136.7 L491.5 135.8 L491.9 134.9 L492.2 134.0 L492.5 133.0 L492.9 132.0 L493.3 131.0 L493.6 130.1 L494.0 129.1 L494.4 128.3 L494.7 127.5 L495.3 126.4 L495.8 125.5 L496.4 124.8 L497.0 124.2 L497.6 123.6 L498.2 123.3 L499.6 122.9 L500.2 122.8 L500.9 122.6 L501.7 122.5 L502.6 122.3 L503.5 122.2 L504.4 122.0 L505.4 121.9 L506.4 121.7 L507.4 121.6 L508.4 121.4 L509.4 121.3 L510.3 121.2 L511.3 121.1 L512.3 121.0 L513.3 120.9 L514.4 120.9 L515.4 120.8 L516.5 120.7 L517.5 120.6 L518.4 120.5 L519.3 120.4 L520.1 120.3 L520.8 120.2 L522.1 119.9 L523.0 119.5 L523.7 119.1 L524.3 118.7 L525.0 118.2 L525.8 117.6 L526.6 117.0 L527.4 116.3 L528.2 115.6 L529.0 114.9 L529.7 114.1 L530.5 113.3 L531.2 112.5 L531.8 111.7 L532.5 110.8 L533.0 110.1 L533.6 109.3 L534.1 108.6 L534.6 107.8 L535.1 107.0 L535.6 106.2 L536.0 105.4 L536.4 104.7 L536.8 103.8 L537.2 103.0 L537.6 102.2 L537.9 101.3 L538.3 100.5 L538.7 99.6 L539.0 98.9 L539.3 98.1 L539.6 97.2 L540.0 96.2 L540.5 94.8 L540.7 94.1 L541.0 93.3 L541.3 92.5 L541.6 91.7 L541.9 90.8 L542.2 89.8 L542.5 88.9 L542.9 87.9 L543.2 86.9 L543.5 85.9 L543.8 84.9 L544.1 83.9 L544.4 82.9 L544.7 82.0 L545.0 81.1 L545.2 80.2 L545.5 79.2 L545.7 78.3 L545.9 77.4 L546.2 76.4 L546.4 75.5 L546.6 74.6 L546.9 73.6 L547.1 72.7 L547.3 71.8 L547.5 70.8 L547.8 69.9 L548.0 69.0 L548.2 68.1 L548.4 67.3 L548.7 66.5 L548.9 65.7 L549.1 65.0 L549.3 64.2 L549.5 63.5 L549.7 62.7 L549.9 61.8 L550.2 60.9 L550.4 59.9 L550.7 58.8 L550.9 57.6 L551.2 56.3 L551.3 55.6 L551.5 54.9 L551.6 54.1 L551.8 53.3 L551.9 52.5 L552.1 51.7 L552.3 50.8 L552.4 50.0 L552.6 49.1 L552.8 48.1 L552.9 47.2 L553.1 46.2 L553.3 45.3 L553.5 44.3 L553.6 43.3 L553.8 42.4 L554.0 41.4 L554.2 40.4 L554.3 39.4 L554.5 38.4 L554.7 37.4 L554.9 36.5 L555.0 35.5 L555.2 34.5 L555.4 33.6 L555.5 32.7 L555.7 31.8 L555.8 30.9 L556.0 30.0 L556.2 29.0 L556.3 28.0 L556.5 27.0 L556.7 26.0 L556.9 25.0 L557.0 24.0 L557.2 23.0 L557.4 21.9 L557.6 20.9 L557.7 19.9 L557.9 18.9 L558.1 17.9 L558.2 16.9 L558.4 15.9 L558.6 15.0 L558.7 14.0 L558.9 13.1 L559.0 12.2 L559.2 11.4 L559.3 10.5 L559.4 9.8 L559.6 9.0 L559.7 8.3 L559.8 7.6 L559.9 7.0 L560.0 6.4 L560.4 4.4 L560.6 3.1 L560.8 2.2 L560.9 1.7 L560.9 1.4 L561.0 1.0" fill="none" stroke="#ea2a2a" stroke-width="1.35" stroke-dasharray="6.2 6.4" stroke-dashoffset="12.10" clip-path="url(#cb)"/>
<g stroke="#000" stroke-width="0.72"><line x1="425.50" y1="309.50" x2="425.50" y2="304.90"/><line x1="425.50" y1="5.90" x2="425.50" y2="10.50"/><line x1="467.57" y1="309.50" x2="467.57" y2="304.90"/><line x1="467.57" y1="5.90" x2="467.57" y2="10.50"/><line x1="509.64" y1="309.50" x2="509.64" y2="304.90"/><line x1="509.64" y1="5.90" x2="509.64" y2="10.50"/><line x1="551.71" y1="309.50" x2="551.71" y2="304.90"/><line x1="551.71" y1="5.90" x2="551.71" y2="10.50"/><line x1="593.79" y1="309.50" x2="593.79" y2="304.90"/><line x1="593.79" y1="5.90" x2="593.79" y2="10.50"/><line x1="635.86" y1="309.50" x2="635.86" y2="304.90"/><line x1="635.86" y1="5.90" x2="635.86" y2="10.50"/><line x1="677.93" y1="309.50" x2="677.93" y2="304.90"/><line x1="677.93" y1="5.90" x2="677.93" y2="10.50"/><line x1="720.00" y1="309.50" x2="720.00" y2="304.90"/><line x1="720.00" y1="5.90" x2="720.00" y2="10.50"/><line x1="425.50" y1="309.50" x2="430.30" y2="309.50"/><line x1="425.50" y1="258.90" x2="430.30" y2="258.90"/><line x1="425.50" y1="208.30" x2="430.30" y2="208.30"/><line x1="425.50" y1="157.70" x2="430.30" y2="157.70"/><line x1="425.50" y1="107.10" x2="430.30" y2="107.10"/><line x1="425.50" y1="56.50" x2="430.30" y2="56.50"/><line x1="425.50" y1="5.90" x2="430.30" y2="5.90"/><line x1="720.00" y1="309.50" x2="715.20" y2="309.50"/><line x1="720.00" y1="258.90" x2="715.20" y2="258.90"/><line x1="720.00" y1="208.30" x2="715.20" y2="208.30"/><line x1="720.00" y1="157.70" x2="715.20" y2="157.70"/><line x1="720.00" y1="107.10" x2="715.20" y2="107.10"/><line x1="720.00" y1="56.50" x2="715.20" y2="56.50"/><line x1="720.00" y1="5.90" x2="715.20" y2="5.90"/></g><rect x="425.50" y="5.90" width="294.50" height="303.60" fill="none" stroke="#000" stroke-width="1.1"/>
<line x1="437.7" y1="309.5" x2="476" y2="309.5" stroke="#a02020" stroke-width="1.1" stroke-dasharray="6.1 6.4"/>
<g class="s" font-size="12.8" fill="#111"><text x="34.50" y="323.4" text-anchor="middle">1</text><text x="76.57" y="323.4" text-anchor="middle">2</text><text x="118.64" y="323.4" text-anchor="middle">3</text><text x="160.71" y="323.4" text-anchor="middle">4</text><text x="202.79" y="323.4" text-anchor="middle">5</text><text x="244.86" y="323.4" text-anchor="middle">6</text><text x="286.93" y="323.4" text-anchor="middle">7</text><text x="329.00" y="323.4" text-anchor="middle">8</text><text x="425.50" y="323.4" text-anchor="middle">1</text><text x="467.57" y="323.4" text-anchor="middle">2</text><text x="509.64" y="323.4" text-anchor="middle">3</text><text x="551.71" y="323.4" text-anchor="middle">4</text><text x="593.79" y="323.4" text-anchor="middle">5</text><text x="635.86" y="323.4" text-anchor="middle">6</text><text x="677.93" y="323.4" text-anchor="middle">7</text><text x="720.00" y="323.4" text-anchor="middle">8</text><text x="29.9" y="312.90" text-anchor="end">0</text><text x="29.9" y="274.95" text-anchor="end">1</text><text x="29.9" y="237.00" text-anchor="end">2</text><text x="29.9" y="199.05" text-anchor="end">3</text><text x="29.9" y="161.10" text-anchor="end">4</text><text x="29.9" y="123.15" text-anchor="end">5</text><text x="29.9" y="85.20" text-anchor="end">6</text><text x="29.9" y="47.25" text-anchor="end">7</text><text x="29.9" y="9.30" text-anchor="end">8</text><text x="420.7" y="312.90" text-anchor="end">0</text><text x="420.7" y="262.30" text-anchor="end">5</text><text x="420.7" y="211.70" text-anchor="end" textLength="15.6" lengthAdjust="spacingAndGlyphs">10</text><text x="420.7" y="161.10" text-anchor="end" textLength="15.6" lengthAdjust="spacingAndGlyphs">15</text><text x="420.7" y="110.50" text-anchor="end" textLength="15.6" lengthAdjust="spacingAndGlyphs">20</text><text x="420.7" y="59.90" text-anchor="end" textLength="15.6" lengthAdjust="spacingAndGlyphs">25</text><text x="420.7" y="9.30" text-anchor="end" textLength="15.6" lengthAdjust="spacingAndGlyphs">30</text><text x="333.6" y="312.90">0</text><text x="724.2" y="312.90">0</text><text x="333.6" y="262.30">1</text><text x="724.2" y="262.30">1</text><text x="333.6" y="211.70">2</text><text x="724.2" y="211.70">2</text><text x="333.6" y="161.10">3</text><text x="724.2" y="161.10">3</text><text x="333.6" y="110.50">4</text><text x="724.2" y="110.50">4</text><text x="333.6" y="59.90">5</text><text x="724.2" y="59.90">5</text><text x="333.6" y="9.30">6</text><text x="724.2" y="9.30">6</text></g>
<g class="r" font-size="18.0" fill="#111">
<text x="139.70" y="348.0" textLength="63.4" lengthAdjust="spacingAndGlyphs">Distance</text>
<line x1="204.40" y1="351.8" x2="210.60" y2="334.6" stroke="#111" stroke-width="0.95"/>
<text x="211.80" y="348.0" textLength="11.9" lengthAdjust="spacingAndGlyphs">A</text>
<circle cx="218.00" cy="333.1" r="1.45" fill="none" stroke="#111" stroke-width="0.8"/>
<text x="530.70" y="348.0" textLength="63.4" lengthAdjust="spacingAndGlyphs">Distance</text>
<line x1="595.40" y1="351.8" x2="601.60" y2="334.6" stroke="#111" stroke-width="0.95"/>
<text x="602.80" y="348.0" textLength="11.9" lengthAdjust="spacingAndGlyphs">A</text>
<circle cx="609.00" cy="333.1" r="1.45" fill="none" stroke="#111" stroke-width="0.8"/>
<g transform="translate(12.80 0) rotate(-90)" font-size="18.2"><text x="-211.30" textLength="11.70" lengthAdjust="spacingAndGlyphs" font-style="italic">G</text><text x="-199.40" textLength="4.60" lengthAdjust="spacingAndGlyphs">(</text><text x="-193.60" textLength="7.60" lengthAdjust="spacingAndGlyphs" font-style="italic">r</text><text x="-184.60" textLength="4.60" lengthAdjust="spacingAndGlyphs">)</text><text x="-179.40" textLength="3.20" lengthAdjust="spacingAndGlyphs">,</text><text x="-166.20" textLength="13.60" lengthAdjust="spacingAndGlyphs">O</text><text x="-151.50" textLength="9.90" lengthAdjust="spacingAndGlyphs">w</text><text x="-139.40" textLength="10.30" lengthAdjust="spacingAndGlyphs">−</text><text x="-128.00" textLength="12.70" lengthAdjust="spacingAndGlyphs">O</text><text x="-114.30" textLength="11.90" lengthAdjust="spacingAndGlyphs">w</text></g>
<g transform="translate(396.30 0) rotate(-90)" font-size="18.2"><text x="-210.90" textLength="13.60" lengthAdjust="spacingAndGlyphs" font-style="italic">G</text><text x="-197.40" textLength="4.60" lengthAdjust="spacingAndGlyphs">(</text><text x="-190.40" textLength="7.20" lengthAdjust="spacingAndGlyphs" font-style="italic">r</text><text x="-182.80" textLength="4.40" lengthAdjust="spacingAndGlyphs">)</text><text x="-177.60" textLength="3.20" lengthAdjust="spacingAndGlyphs">,</text><text x="-163.60" textLength="12.80" lengthAdjust="spacingAndGlyphs">N</text><text x="-149.60" textLength="8.90" lengthAdjust="spacingAndGlyphs">a</text><text x="-139.40" textLength="10.30" lengthAdjust="spacingAndGlyphs">−</text><text x="-127.80" textLength="12.50" lengthAdjust="spacingAndGlyphs">O</text><text x="-114.60" textLength="10.00" lengthAdjust="spacingAndGlyphs">w</text></g>
<text transform="translate(358.6 169.2) rotate(-90)" textLength="23" lengthAdjust="spacingAndGlyphs">CN</text>
<text transform="translate(749.6 169.2) rotate(-90)" textLength="23" lengthAdjust="spacingAndGlyphs">CN</text>
</g>
<g class="r" font-size="19" fill="#111"><text x="44.3" y="26.2">(a)</text><text x="434.9" y="26.2">(b)</text></g>
<g class="s" font-size="13" fill="#111"><rect x="206.7" y="11" width="107.5" height="68.5" rx="3" ry="3" fill="#fff" stroke="#111" stroke-width="1.2"/><line x1="211.1" y1="21.20" x2="237.8" y2="21.20" stroke="#5272c0" stroke-width="1.35"/><text x="247.6" y="25.80" textLength="32.2" lengthAdjust="spacingAndGlyphs">wc05</text><line x1="211.1" y1="36.55" x2="237.8" y2="36.55" stroke="#2d7a38" stroke-width="1.35"/><text x="247.6" y="41.15" textLength="32.2" lengthAdjust="spacingAndGlyphs">wc18</text><line x1="211.1" y1="51.90" x2="237.8" y2="51.90" stroke="#f07070" stroke-width="1.35"/><text x="247.6" y="56.50" textLength="32.2" lengthAdjust="spacingAndGlyphs">wc31</text><line x1="211.1" y1="67.25" x2="237.8" y2="67.25" stroke="#2ab5b5" stroke-width="1.35"/><text x="247.6" y="71.85" textLength="63.8" lengthAdjust="spacingAndGlyphs">bulk water</text><rect x="610.7" y="12.8" width="78.8" height="52.1" rx="3" ry="3" fill="#fff" stroke="#111" stroke-width="1.2"/><line x1="614.8" y1="22.40" x2="642" y2="22.40" stroke="#2352ad" stroke-width="1.35"/><text x="651.4" y="27.00" textLength="32.8" lengthAdjust="spacingAndGlyphs">wc05</text><line x1="614.8" y1="37.75" x2="642" y2="37.75" stroke="#66a870" stroke-width="1.35"/><text x="651.4" y="42.35" textLength="32.8" lengthAdjust="spacingAndGlyphs">wc18</text><line x1="614.8" y1="53.10" x2="642" y2="53.10" stroke="#ec2b2b" stroke-width="1.35"/><text x="651.4" y="57.70" textLength="32.8" lengthAdjust="spacingAndGlyphs">wc31</text></g>
</svg></body></html>
